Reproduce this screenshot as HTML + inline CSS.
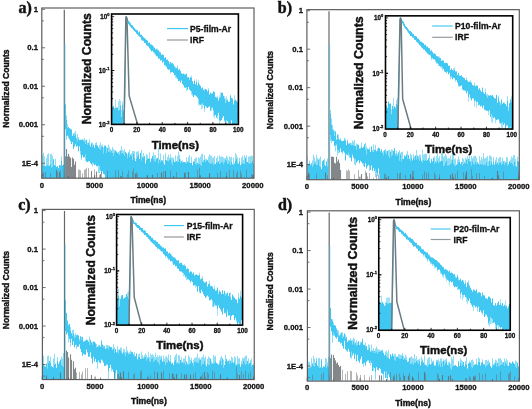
<!DOCTYPE html>
<html><head><meta charset="utf-8"><style>
html,body{margin:0;padding:0;background:#fff;width:532px;height:409px;overflow:hidden}
svg{display:block;filter:blur(0.35px)}
</style></head><body>
<svg width="532" height="409" viewBox="0 0 532 409">
<rect width="532" height="409" fill="#fff"/>
<clipPath id="ca"><rect x="42.1" y="8" width="211.6" height="169.9"/></clipPath>
<g clip-path="url(#ca)">
<path d="M41.5 160.5V178.2M42.5 164.4V178.2M43.5 165.5V178.2M44.5 165.6V178.2M45.5 165.9V178.2M46.5 166.2V178.2M47.5 165.0V178.2M48.5 166.0V178.2M49.5 165.6V178.2M50.5 163.6V178.2M51.5 167.3V178.2M52.5 166.9V178.2M53.5 159.2V178.2M54.5 165.0V178.2M55.5 165.8V178.2M56.5 167.0V178.2M57.5 166.1V178.2M58.5 168.1V178.2M59.5 165.0V178.2M60.5 165.5V178.2M61.5 160.8V178.2M62.5 165.3V178.2M63.5 164.7V178.2M65.5 104.4V129.2M66.5 119.9V136.3M67.5 128.1V135.7M68.5 127.1V136.6M69.5 128.2V139.4M70.5 128.8V141.4M71.5 129.5V144.0M72.5 135.9V142.0M73.5 133.6V148.8M74.5 135.5V146.5M75.5 134.3V144.4M76.5 138.9V146.7M77.5 141.2V145.9M78.5 138.5V151.4M79.5 140.0V146.4M80.5 139.8V151.2M81.5 139.9V158.1M82.5 139.4V155.2M83.5 140.7V157.4M84.5 141.3V157.2M85.5 143.9V154.7M86.5 139.8V161.0M87.5 144.4V162.0M88.5 142.6V161.3M89.5 145.0V161.2M90.5 146.4V163.1M91.5 143.7V164.3M92.5 146.7V162.7M93.5 144.7V163.6M94.5 147.7V165.3M95.5 145.0V164.5M96.5 145.1V166.2M97.5 145.6V166.3M98.5 147.4V165.5M99.5 148.8V166.5M100.5 150.0V170.6M101.5 146.4V173.8M102.5 146.6V171.3M103.5 153.3V173.8M104.5 146.2V174.5M105.5 145.8V178.2M106.5 152.8V178.2M107.5 147.9V178.2M108.5 151.5V178.2M109.5 151.2V178.2M110.5 152.2V178.2M111.5 150.5V178.2M112.5 153.0V178.2M113.5 155.9V178.2M114.5 152.4V178.2M115.5 150.6V178.2M116.5 151.5V178.2M117.5 152.8V178.2M118.5 154.0V178.2M119.5 154.7V178.2M120.5 150.8V178.2M121.5 153.3V178.2M122.5 153.1V178.2M123.5 153.6V178.2M124.5 155.7V178.2M125.5 151.9V178.2M126.5 153.0V178.2M127.5 158.1V178.2M128.5 152.8V178.2M129.5 156.8V178.2M130.5 154.6V178.2M131.5 155.6V178.2M132.5 159.6V178.2M133.5 154.0V178.2M134.5 158.1V178.2M135.5 161.1V178.2M136.5 158.7V178.2M137.5 156.4V178.2M138.5 154.4V178.2M139.5 158.8V178.2M140.5 152.9V178.2M141.5 160.3V178.2M142.5 156.8V178.2M143.5 157.7V178.2M144.5 156.3V178.2M145.5 163.4V178.2M146.5 159.5V178.2M147.5 158.9V178.2M148.5 158.4V178.2M149.5 158.9V178.2M150.5 161.7V178.2M151.5 158.4V178.2M152.5 156.0V178.2M153.5 159.1V178.2M154.5 161.2V178.2M155.5 161.2V178.2M156.5 158.7V178.2M157.5 157.9V178.2M158.5 163.2V178.2M159.5 159.6V178.2M160.5 162.1V178.2M161.5 160.2V178.2M162.5 160.6V178.2M163.5 163.0V178.2M164.5 164.7V178.2M165.5 160.0V178.2M166.5 160.2V178.2M167.5 160.7V178.2M168.5 161.3V178.2M169.5 159.6V178.2M170.5 159.1V178.2M171.5 163.0V178.2M172.5 164.5V178.2M173.5 160.2V178.2M174.5 161.9V178.2M175.5 162.0V178.2M176.5 161.2V178.2M177.5 162.1V178.2M178.5 161.3V178.2M179.5 159.0V178.2M180.5 162.6V178.2M181.5 161.2V178.2M182.5 162.4V178.2M183.5 162.0V178.2M184.5 162.2V178.2M185.5 162.4V178.2M186.5 163.4V178.2M187.5 161.5V178.2M188.5 161.7V178.2M189.5 163.0V178.2M190.5 163.0V178.2M191.5 162.6V178.2M192.5 165.3V178.2M193.5 161.5V178.2M194.5 162.0V178.2M195.5 163.5V178.2M196.5 164.3V178.2M197.5 162.8V178.2M198.5 164.2V178.2M199.5 164.0V178.2M200.5 164.6V178.2M201.5 165.5V178.2M202.5 161.8V178.2M203.5 161.8V178.2M204.5 159.9V178.2M205.5 161.8V178.2M206.5 160.3V178.2M207.5 160.1V178.2M208.5 162.1V178.2M209.5 162.8V178.2M210.5 164.0V178.2M211.5 163.4V178.2M212.5 162.3V178.2M213.5 164.4V178.2M214.5 164.2V178.2M215.5 163.9V178.2M216.5 161.8V178.2M217.5 162.6V178.2M218.5 161.2V178.2M219.5 163.8V178.2M220.5 163.3V178.2M221.5 162.1V178.2M222.5 161.7V178.2M223.5 164.1V178.2M224.5 162.2V178.2M225.5 160.1V178.2M226.5 160.3V178.2M227.5 163.7V178.2M228.5 163.3V178.2M229.5 161.5V178.2M230.5 164.7V178.2M231.5 162.0V178.2M232.5 164.2V178.2M233.5 164.5V178.2M234.5 163.3V178.2M235.5 160.7V178.2M236.5 158.9V178.2M237.5 163.1V178.2M238.5 163.6V178.2M239.5 161.3V178.2M240.5 165.2V178.2M241.5 163.8V178.2M242.5 163.0V178.2M243.5 163.5V178.2M244.5 163.5V178.2M245.5 158.2V178.2M246.5 161.5V178.2M247.5 162.0V178.2M248.5 163.0V178.2M249.5 164.0V178.2M250.5 162.9V178.2M251.5 163.0V178.2M252.5 160.7V178.2M253.5 163.7V178.2" stroke="#40c8f2" stroke-width="1" fill="none"/>
<path d="M42.5 155.0V164.4M43.5 152.7V165.5M44.5 156.4V165.6M46.5 158.2V166.2M47.5 154.3V165.0M48.5 153.2V166.0M50.5 154.2V163.6M51.5 153.6V167.3M52.5 155.6V166.9M55.5 158.8V165.8M61.5 156.7V160.8M66.5 136.3V139.7M66.5 115.2V119.9M67.5 124.3V128.1M68.5 136.6V138.2M72.5 142.0V142.3M74.5 132.7V135.5M75.5 131.1V134.3M76.5 137.6V138.9M77.5 134.2V141.2M78.5 137.1V138.5M80.5 151.2V154.7M81.5 158.1V159.6M81.5 139.6V139.9M83.5 139.5V140.7M84.5 138.2V141.3M85.5 154.7V160.9M85.5 140.0V143.9M86.5 161.0V162.2M87.5 142.7V144.4M89.5 139.4V145.0M91.5 142.4V143.7M92.5 162.7V166.5M92.5 142.5V146.7M95.5 143.0V145.0M96.5 142.1V145.1M98.5 165.5V173.2M99.5 166.5V173.0M99.5 144.8V148.8M100.5 142.5V150.0M101.5 145.5V146.4M102.5 144.4V146.6M103.5 147.4V153.3M104.5 145.2V146.2M106.5 147.2V152.8M108.5 144.5V151.5M109.5 146.8V151.2M110.5 148.8V152.2M112.5 146.9V153.0M113.5 148.9V155.9M114.5 150.0V152.4M115.5 150.4V150.6M118.5 152.0V154.0M119.5 150.9V154.7M120.5 149.9V150.8M121.5 146.1V153.3M122.5 149.8V153.1M123.5 151.0V153.6M124.5 149.0V155.7M127.5 154.5V158.1M128.5 151.9V152.8M129.5 149.7V156.8M131.5 153.1V155.6M132.5 151.1V159.6M133.5 151.0V154.0M134.5 151.4V158.1M136.5 151.8V158.7M137.5 151.4V156.4M138.5 151.2V154.4M140.5 152.8V152.9M141.5 149.9V160.3M142.5 156.5V156.8M143.5 153.0V157.7M144.5 155.8V156.3M146.5 154.1V159.5M147.5 155.1V158.9M149.5 152.4V158.9M153.5 152.5V159.1M154.5 155.2V161.2M155.5 155.0V161.2M158.5 147.6V163.2M160.5 153.4V162.1M163.5 155.4V163.0M165.5 153.1V160.0M167.5 157.1V160.7M168.5 154.5V161.3M169.5 157.6V159.6M170.5 154.3V159.1M171.5 157.5V163.0M172.5 157.8V164.5M173.5 157.6V160.2M175.5 155.4V162.0M177.5 156.0V162.1M178.5 151.7V161.3M179.5 154.8V159.0M180.5 159.3V162.6M182.5 160.4V162.4M186.5 157.4V163.4M188.5 157.0V161.7M189.5 154.9V163.0M191.5 156.6V162.6M194.5 159.0V162.0M195.5 157.7V163.5M196.5 157.5V164.3M198.5 157.0V164.2M199.5 158.3V164.0M200.5 156.5V164.6M201.5 154.2V165.5M202.5 153.7V161.8M203.5 159.8V161.8M204.5 155.0V159.9M205.5 159.2V161.8M206.5 158.8V160.3M208.5 156.6V162.1M209.5 154.3V162.8M210.5 155.3V164.0M211.5 155.8V163.4M212.5 157.7V162.3M213.5 157.5V164.4M214.5 156.0V164.2M216.5 158.0V161.8M217.5 156.1V162.6M219.5 155.4V163.8M220.5 156.7V163.3M221.5 156.5V162.1M222.5 156.9V161.7M223.5 157.4V164.1M224.5 158.4V162.2M225.5 157.9V160.1M226.5 155.8V160.3M227.5 157.0V163.7M228.5 159.8V163.3M229.5 156.3V161.5M230.5 157.3V164.7M231.5 156.8V162.0M233.5 157.7V164.5M235.5 153.1V160.7M236.5 154.7V158.9M237.5 157.6V163.1M239.5 157.9V161.3M241.5 157.7V163.8M242.5 155.7V163.0M243.5 160.0V163.5M244.5 155.1V163.5M245.5 157.1V158.2M246.5 155.2V161.5M248.5 156.5V163.0M249.5 156.7V164.0M250.5 156.0V162.9M251.5 155.5V163.0M252.5 155.9V160.7" stroke="#40c8f2" stroke-opacity="0.6" stroke-width="1" fill="none"/>
<path d="M43.5 172.1V178.2M45.5 172.0V178.2M50.5 173.0V178.2M57.5 171.6V178.2M60.5 170.2V178.2M64.5 170.9V178.2M78.5 169.6V178.2M79.5 169.8V178.2M80.5 170.3V178.2M82.5 173.4V178.2M84.5 169.6V178.2M85.5 169.3V178.2M86.5 167.8V178.2M88.5 168.1V178.2M94.5 169.5V178.2M99.5 175.2V178.2M101.5 172.1V178.2M107.5 170.7V178.2M115.5 170.4V178.2M118.5 170.3V178.2M120.5 176.5V178.2M122.5 171.3V178.2M127.5 174.1V178.2M128.5 170.5V178.2M132.5 171.2V178.2M133.5 168.5V178.2M136.5 172.4V178.2M137.5 173.8V178.2M157.5 173.0V178.2M163.5 171.2V178.2M170.5 170.6V178.2M176.5 172.0V178.2M185.5 172.0V178.2M197.5 169.9V178.2M199.5 167.8V178.2M217.5 173.0V178.2M220.5 171.0V178.2M226.5 172.6V178.2M229.5 170.1V178.2M233.5 170.3V178.2M236.5 173.3V178.2M237.5 171.1V178.2M240.5 170.7V178.2M241.5 173.7V178.2M246.5 169.8V178.2M251.5 174.0V178.2" stroke="#65696c" stroke-opacity="0.5" stroke-width="1" fill="none"/>
<path d="M56.5 169.8V178.2M59.5 171.9V178.2M65.5 156.4V178.2M66.5 149.0V178.2M67.5 156.4V178.2M68.5 153.7V178.2M69.5 156.6V178.2M70.5 157.8V178.2M71.5 166.9V178.2M72.5 157.6V178.2M73.5 158.7V178.2M74.5 164.8V178.2M75.5 161.6V178.2M91.5 171.0V178.2M96.5 171.6V178.2M100.5 174.1V178.2M135.5 173.5V178.2M152.5 174.8V178.2M161.5 172.5V178.2M165.5 171.1V178.2M184.5 172.9V178.2M188.5 172.0V178.2M209.5 173.2V178.2M253.5 174.8V178.2" stroke="#65696c" stroke-opacity="0.8" stroke-width="1.1" fill="none"/>
<path d="M64.3 9.8V178.2" stroke="#65696c" stroke-width="1.2"/>
<path d="M65 43.16V178.2" stroke="#40c8f2" stroke-width="0.6"/>
</g>
<rect x="41.8" y="8" width="212.2" height="170.2" fill="none" stroke="#5e5e5e" stroke-width="1.2"/>
<path d="M41.8 9.3h3.2M41.8 20.88h2M41.8 47.78h3.2M41.8 59.36h2M41.8 86.26h3.2M41.8 97.84h2M41.8 124.74h3.2M41.8 136.32h2M41.8 163.22h3.2M41.8 174.8h2M41.9 178.2v-3M68.26 178.2v-2M94.62 178.2v-3M120.99 178.2v-2M147.35 178.2v-3M173.71 178.2v-2M200.08 178.2v-3M226.44 178.2v-2M252.8 178.2v-3" stroke="#5e5e5e" stroke-width="0.9"/>
<text x="38" y="12" font-family='"Liberation Sans", sans-serif' font-weight="bold" font-size="7.7" text-anchor="end" fill="#111" stroke="#111" stroke-width="0.3" >1</text>
<text x="38" y="50.48" font-family='"Liberation Sans", sans-serif' font-weight="bold" font-size="7.7" text-anchor="end" fill="#111" stroke="#111" stroke-width="0.3" >0.1</text>
<text x="38" y="88.95" font-family='"Liberation Sans", sans-serif' font-weight="bold" font-size="7.7" text-anchor="end" fill="#111" stroke="#111" stroke-width="0.3" >0.01</text>
<text x="38" y="127.43" font-family='"Liberation Sans", sans-serif' font-weight="bold" font-size="7.7" text-anchor="end" fill="#111" stroke="#111" stroke-width="0.3" >0.001</text>
<text x="38" y="165.91" font-family='"Liberation Sans", sans-serif' font-weight="bold" font-size="7.7" text-anchor="end" fill="#111" stroke="#111" stroke-width="0.3" >1E-4</text>
<text x="41.9" y="187.69" font-family='"Liberation Sans", sans-serif' font-weight="bold" font-size="7.7" text-anchor="middle" fill="#111" stroke="#111" stroke-width="0.3" >0</text>
<text x="94.62" y="187.69" font-family='"Liberation Sans", sans-serif' font-weight="bold" font-size="7.7" text-anchor="middle" fill="#111" stroke="#111" stroke-width="0.3" >5000</text>
<text x="147.35" y="187.69" font-family='"Liberation Sans", sans-serif' font-weight="bold" font-size="7.7" text-anchor="middle" fill="#111" stroke="#111" stroke-width="0.3" >10000</text>
<text x="200.08" y="187.69" font-family='"Liberation Sans", sans-serif' font-weight="bold" font-size="7.7" text-anchor="middle" fill="#111" stroke="#111" stroke-width="0.3" >15000</text>
<text x="252.8" y="187.69" font-family='"Liberation Sans", sans-serif' font-weight="bold" font-size="7.7" text-anchor="middle" fill="#111" stroke="#111" stroke-width="0.3" >20000</text>
<text transform="translate(8.6,88.5) rotate(-90)" x="0" y="0" font-family='"Liberation Sans", sans-serif' font-weight="bold" font-size="8.6" text-anchor="middle" fill="#111" stroke="#111" stroke-width="0.4">Normalized Counts</text>
<text x="130.5" y="202.7" font-family='"Liberation Sans", sans-serif' font-weight="bold" font-size="8.6" text-anchor="start" fill="#111" stroke="#111" stroke-width="0.4" >Time(ns)</text>
<text x="18.4" y="13.4" font-family='"Liberation Serif", serif' font-weight="bold" font-size="16" text-anchor="start" fill="#111" stroke="#111" stroke-width="0.45" >a)</text>
<rect x="111.6" y="14" width="126.8" height="110.4" fill="#fff"/>
<clipPath id="ia"><rect x="111.6" y="14" width="126.8" height="110.4"/></clipPath>
<g clip-path="url(#ia)">
<path d="M111.5 115.1V124.4M112.5 109.1V124.4M113.5 105.9V124.4M114.5 108.3V124.4M115.5 108.2V124.4M116.5 107.4V124.4M117.5 107.5V124.4M118.5 110.4V124.4M119.5 109.8V124.4M120.5 105.3V124.4M121.5 116.8V124.4M122.5 104.5V124.4M123.5 110.7V124.4M125.5 16.7V17.9M126.5 16.7V18.0M127.5 17.9V21.5M128.5 20.6V24.0M129.5 21.7V25.5M130.5 23.2V26.6M131.5 24.8V28.2M132.5 25.3V28.7M133.5 26.7V30.1M134.5 28.1V31.0M135.5 29.3V32.1M136.5 29.8V33.8M137.5 30.5V34.5M138.5 32.4V35.7M139.5 31.5V36.7M140.5 34.4V37.3M141.5 34.8V39.7M142.5 36.1V40.9M143.5 37.2V40.8M144.5 38.0V43.0M145.5 39.1V43.2M146.5 39.9V45.3M147.5 40.6V45.8M148.5 42.8V46.6M149.5 42.6V48.3M150.5 44.2V49.7M151.5 44.7V51.4M152.5 45.4V50.9M153.5 46.5V52.3M154.5 47.8V52.7M155.5 49.3V54.4M156.5 49.2V56.2M157.5 50.1V56.5M158.5 50.3V58.7M159.5 52.4V58.6M160.5 52.9V60.6M161.5 55.0V60.1M162.5 54.3V62.2M163.5 55.2V61.6M164.5 58.1V65.3M165.5 57.1V64.9M166.5 59.6V66.8M167.5 59.6V68.9M168.5 61.0V69.9M169.5 63.7V69.4M170.5 62.0V72.2M171.5 63.4V72.3M172.5 63.0V72.1M173.5 64.3V73.0M174.5 66.7V75.3M175.5 68.2V75.4M176.5 68.2V77.2M177.5 67.3V78.9M178.5 69.8V81.2M179.5 69.3V80.8M180.5 70.9V82.6M181.5 73.5V80.5M182.5 73.8V83.9M183.5 73.6V85.4M184.5 74.4V87.5M185.5 74.4V87.9M186.5 74.0V87.3M187.5 77.4V89.8M188.5 77.2V87.0M189.5 79.7V89.6M190.5 77.1V90.8M191.5 77.8V91.5M192.5 81.1V94.4M193.5 83.7V97.0M194.5 80.9V95.3M195.5 84.4V95.5M196.5 82.1V96.5M197.5 85.3V97.6M198.5 82.9V99.3M199.5 84.6V103.9M200.5 85.8V104.9M201.5 88.4V104.2M202.5 87.4V103.4M203.5 89.8V105.1M204.5 90.7V108.6M205.5 88.9V106.0M206.5 89.6V107.3M207.5 91.3V108.0M208.5 90.0V107.1M209.5 94.5V106.3M210.5 92.7V110.8M211.5 93.7V107.8M212.5 93.3V107.8M213.5 91.3V110.6M214.5 92.1V115.3M215.5 96.8V115.1M216.5 97.7V117.7M217.5 97.5V115.5M218.5 100.4V112.9M219.5 98.1V120.4M220.5 97.1V121.1M221.5 92.6V120.1M222.5 92.8V117.9M223.5 95.7V116.1M224.5 99.0V120.4M225.5 102.9V122.8M226.5 100.3V120.4M227.5 99.7V121.1M228.5 101.8V123.2M229.5 101.6V123.3M230.5 95.3V127.2M231.5 98.0V120.4M232.5 98.6V126.1M233.5 104.4V126.7M234.5 100.9V131.3M235.5 99.7V128.1M236.5 100.9V130.5M237.5 102.3V121.7M238.5 104.1V130.5" stroke="#40c8f2" stroke-width="1" fill="none"/>
<path d="M111.5 105.6V115.1M111.5 102.2V105.6M113.5 105.9V105.9M115.5 99.6V108.2M118.5 101.4V110.4M119.5 99.0V109.8M120.5 100.8V105.3M121.5 109.6V116.8M122.5 101.4V104.5M149.5 42.2V42.6M152.5 45.2V45.4M153.5 46.0V46.5M154.5 52.7V54.1M155.5 54.4V55.3M156.5 48.4V49.2M157.5 48.7V50.1M159.5 51.1V52.4M160.5 51.6V52.9M161.5 54.8V55.0M162.5 62.2V63.4M163.5 55.1V55.2M165.5 64.9V66.7M167.5 68.9V69.1M169.5 62.6V63.7M170.5 61.9V62.0M170.5 72.2V73.8M172.5 62.9V63.0M174.5 65.6V66.7M174.5 75.3V75.5M175.5 66.7V68.2M175.5 75.4V77.8M176.5 77.2V78.4M177.5 65.2V67.3M178.5 81.2V81.3M179.5 68.7V69.3M181.5 72.9V73.5M186.5 73.3V74.0M186.5 87.3V91.5M187.5 76.5V77.4M189.5 78.1V79.7M191.5 75.6V77.8M191.5 91.5V94.7M192.5 94.4V95.9M194.5 79.4V80.9M196.5 79.4V82.1M198.5 80.4V82.9M198.5 99.3V105.3M199.5 103.9V105.6M200.5 104.9V105.2M201.5 104.2V109.2M202.5 103.4V108.7M204.5 88.9V90.7M204.5 108.6V111.8M208.5 88.1V90.0M211.5 107.8V110.8M213.5 110.6V116.4M214.5 115.3V118.5M216.5 96.9V97.7M217.5 95.6V97.5M217.5 115.5V118.9M219.5 95.5V98.1M219.5 120.4V127.4M220.5 92.2V97.1M224.5 96.1V99.0M224.5 120.4V121.8M225.5 97.9V102.9M226.5 96.4V100.3M226.5 120.4V125.6M229.5 123.3V127.5M230.5 127.2V136.2M232.5 126.1V132.2M233.5 126.7V128.0M234.5 95.1V100.9M234.5 131.3V133.4M236.5 130.5V133.9M237.5 121.7V123.5M238.5 130.5V130.9" stroke="#40c8f2" stroke-opacity="0.5" stroke-width="1" fill="none"/>
<path d="M124.35 124.4L126.16 16.7" stroke="#40c8f2" stroke-width="1"/>
<path d="M123.93 129.74 L125.83 18.31 L126.34 16.7 L126.97 18.85 L129.13 95.83 L137.62 124.36 L138.25 127.05" stroke="#6d7c81" stroke-width="1.5" fill="none" stroke-linejoin="round"/>
</g>
<rect x="111.6" y="14" width="126.8" height="110.4" fill="none" stroke="#000" stroke-width="1.6"/>
<path d="M111.6 108.16h1.6M111.6 98.68h1.6M111.6 91.95h1.6M111.6 86.73h1.6M111.6 82.47h1.6M111.6 78.87h1.6M111.6 75.75h1.6M111.6 72.99h1.6M111.6 70.53h2.6M111.6 70.53h2.6M111.6 54.33h1.6M111.6 44.85h1.6M111.6 38.12h1.6M111.6 32.9h1.6M111.6 28.64h1.6M111.6 25.04h1.6M111.6 21.92h1.6M111.6 19.16h1.6M111.6 16.7h2.6M124.18 124.4v-1.5M136.86 124.4v-2.4M149.54 124.4v-1.5M162.22 124.4v-2.4M174.9 124.4v-1.5M187.58 124.4v-2.4M200.26 124.4v-1.5M212.94 124.4v-2.4M225.62 124.4v-1.5" stroke="#000" stroke-width="0.8"/>
<text x="109.4" y="18.9" font-family='"Liberation Sans", sans-serif' font-weight="bold" font-size="6.3" text-anchor="end" fill="#111" stroke="#111" stroke-width="0.3">10<tspan font-size="4" dy="-2.8">0</tspan></text>
<text x="109.4" y="72.73" font-family='"Liberation Sans", sans-serif' font-weight="bold" font-size="6.3" text-anchor="end" fill="#111" stroke="#111" stroke-width="0.3">10<tspan font-size="4" dy="-2.8">-1</tspan></text>
<text x="109.4" y="126.56" font-family='"Liberation Sans", sans-serif' font-weight="bold" font-size="6.3" text-anchor="end" fill="#111" stroke="#111" stroke-width="0.3">10<tspan font-size="4" dy="-2.8">-2</tspan></text>
<text x="111.5" y="132.21" font-family='"Liberation Sans", sans-serif' font-weight="bold" font-size="6.3" text-anchor="middle" fill="#111" stroke="#111" stroke-width="0.3" >0</text>
<text x="136.86" y="132.21" font-family='"Liberation Sans", sans-serif' font-weight="bold" font-size="6.3" text-anchor="middle" fill="#111" stroke="#111" stroke-width="0.3" >20</text>
<text x="162.22" y="132.21" font-family='"Liberation Sans", sans-serif' font-weight="bold" font-size="6.3" text-anchor="middle" fill="#111" stroke="#111" stroke-width="0.3" >40</text>
<text x="187.58" y="132.21" font-family='"Liberation Sans", sans-serif' font-weight="bold" font-size="6.3" text-anchor="middle" fill="#111" stroke="#111" stroke-width="0.3" >60</text>
<text x="212.94" y="132.21" font-family='"Liberation Sans", sans-serif' font-weight="bold" font-size="6.3" text-anchor="middle" fill="#111" stroke="#111" stroke-width="0.3" >80</text>
<text x="238.3" y="132.21" font-family='"Liberation Sans", sans-serif' font-weight="bold" font-size="6.3" text-anchor="middle" fill="#111" stroke="#111" stroke-width="0.3" >100</text>
<text transform="translate(90.6,68.7) rotate(-90)" x="0" y="0" font-family='"Liberation Sans", sans-serif' font-weight="bold" font-size="12.2" text-anchor="middle" fill="#111" stroke="#111" stroke-width="0.45">Normalized Counts</text>
<text x="151.7" y="148.6" font-family='"Liberation Sans", sans-serif' font-weight="bold" font-size="11.4" text-anchor="start" fill="#111" stroke="#111" stroke-width="0.45" >Time(ns)</text>
<path d="M167 28.6H188" stroke="#40c8f2" stroke-width="1.15"/>
<path d="M167 40H188" stroke="#939a9e" stroke-width="1.2"/>
<text x="190.1" y="31.7" font-family='"Liberation Sans", sans-serif' font-weight="bold" font-size="8.6" text-anchor="start" fill="#111" stroke="#111" stroke-width="0.3" >P5-film-Ar</text>
<text x="190.1" y="42.7" font-family='"Liberation Sans", sans-serif' font-weight="bold" font-size="8.6" text-anchor="start" fill="#111" stroke="#111" stroke-width="0.3" >IRF</text>
<clipPath id="cb"><rect x="307.2" y="9.65" width="211.8" height="169.75"/></clipPath>
<g clip-path="url(#cb)">
<path d="M306.5 164.5V179.7M307.5 163.8V179.7M308.5 164.1V179.7M309.5 162.9V179.7M310.5 165.1V179.7M311.5 163.3V179.7M312.5 167.1V179.7M313.5 164.8V179.7M314.5 163.1V179.7M315.5 163.2V179.7M316.5 164.6V179.7M317.5 164.6V179.7M318.5 159.5V179.7M319.5 165.9V179.7M320.5 166.8V179.7M321.5 169.1V179.7M322.5 161.2V179.7M323.5 160.0V179.7M324.5 164.5V179.7M325.5 165.8V179.7M326.5 161.4V179.7M327.5 166.3V179.7M330.5 113.6V135.3M331.5 124.7V139.9M332.5 129.8V141.2M333.5 131.1V141.0M334.5 135.9V145.9M335.5 131.4V145.2M336.5 139.6V144.5M337.5 135.1V149.8M338.5 138.9V150.0M339.5 139.6V152.4M340.5 140.0V148.5M341.5 140.7V152.3M342.5 141.2V152.1M343.5 140.8V151.2M344.5 139.7V152.7M345.5 141.1V160.5M346.5 145.0V154.3M347.5 140.8V155.1M348.5 143.7V152.9M349.5 143.4V155.2M350.5 145.0V157.7M351.5 145.2V161.3M352.5 144.8V154.5M353.5 145.4V157.7M354.5 146.1V159.3M355.5 145.6V159.0M356.5 149.4V162.4M357.5 144.5V161.2M358.5 144.8V160.3M359.5 148.5V163.3M360.5 148.3V160.8M361.5 146.6V162.2M362.5 148.0V163.5M363.5 146.8V163.6M364.5 144.2V167.1M365.5 149.3V163.3M366.5 154.3V168.5M367.5 148.7V166.3M368.5 149.2V164.9M369.5 149.7V166.2M370.5 152.1V170.0M371.5 146.5V165.5M372.5 151.4V170.8M373.5 151.7V168.0M374.5 149.7V171.1M375.5 150.1V169.1M376.5 151.2V172.7M377.5 150.9V173.9M378.5 147.6V168.6M379.5 148.4V174.2M380.5 151.7V179.7M381.5 149.7V179.7M382.5 152.6V179.7M383.5 155.2V179.7M384.5 150.1V179.7M385.5 152.4V179.7M386.5 154.3V179.7M387.5 150.9V179.7M388.5 155.8V179.7M389.5 157.9V179.7M390.5 151.5V179.7M391.5 156.1V179.7M392.5 154.7V179.7M393.5 151.0V179.7M394.5 148.2V179.7M395.5 155.5V179.7M396.5 154.2V179.7M397.5 155.6V179.7M398.5 152.4V179.7M399.5 160.4V179.7M400.5 154.6V179.7M401.5 161.2V179.7M402.5 158.8V179.7M403.5 159.0V179.7M404.5 155.4V179.7M405.5 156.9V179.7M406.5 154.5V179.7M407.5 158.5V179.7M408.5 155.2V179.7M409.5 158.8V179.7M410.5 160.6V179.7M411.5 157.8V179.7M412.5 160.3V179.7M413.5 157.4V179.7M414.5 159.7V179.7M415.5 155.7V179.7M416.5 159.3V179.7M417.5 155.6V179.7M418.5 159.0V179.7M419.5 160.5V179.7M420.5 157.4V179.7M421.5 160.8V179.7M422.5 162.4V179.7M423.5 159.8V179.7M424.5 160.9V179.7M425.5 159.8V179.7M426.5 160.6V179.7M427.5 160.2V179.7M428.5 158.0V179.7M429.5 161.1V179.7M430.5 162.9V179.7M431.5 159.2V179.7M432.5 161.4V179.7M433.5 157.6V179.7M434.5 163.4V179.7M435.5 161.3V179.7M436.5 162.9V179.7M437.5 160.6V179.7M438.5 163.1V179.7M439.5 161.9V179.7M440.5 161.4V179.7M441.5 161.0V179.7M442.5 160.6V179.7M443.5 165.9V179.7M444.5 165.3V179.7M445.5 162.3V179.7M446.5 160.6V179.7M447.5 165.4V179.7M448.5 165.3V179.7M449.5 165.0V179.7M450.5 164.1V179.7M451.5 162.9V179.7M452.5 159.5V179.7M453.5 163.7V179.7M454.5 165.5V179.7M455.5 165.4V179.7M456.5 164.7V179.7M457.5 163.8V179.7M458.5 162.2V179.7M459.5 161.5V179.7M460.5 164.1V179.7M461.5 162.0V179.7M462.5 165.5V179.7M463.5 163.8V179.7M464.5 162.6V179.7M465.5 163.3V179.7M466.5 159.5V179.7M467.5 164.0V179.7M468.5 158.8V179.7M469.5 161.3V179.7M470.5 161.4V179.7M471.5 165.3V179.7M472.5 161.2V179.7M473.5 163.7V179.7M474.5 164.2V179.7M475.5 161.8V179.7M476.5 164.1V179.7M477.5 162.2V179.7M478.5 163.7V179.7M479.5 164.9V179.7M480.5 163.8V179.7M481.5 164.3V179.7M482.5 163.5V179.7M483.5 165.3V179.7M484.5 164.2V179.7M485.5 164.7V179.7M486.5 162.1V179.7M487.5 165.7V179.7M488.5 165.9V179.7M489.5 161.0V179.7M490.5 164.6V179.7M491.5 162.1V179.7M492.5 164.5V179.7M493.5 161.3V179.7M494.5 164.6V179.7M495.5 161.7V179.7M496.5 163.9V179.7M497.5 162.6V179.7M498.5 164.5V179.7M499.5 162.6V179.7M500.5 162.7V179.7M501.5 164.8V179.7M502.5 163.6V179.7M503.5 161.4V179.7M504.5 165.1V179.7M505.5 162.3V179.7M506.5 162.2V179.7M507.5 165.7V179.7M508.5 164.1V179.7M509.5 161.3V179.7M510.5 162.4V179.7M511.5 162.8V179.7M512.5 163.7V179.7M513.5 165.8V179.7M514.5 161.8V179.7M515.5 165.5V179.7M516.5 166.4V179.7M517.5 160.6V179.7M518.5 161.9V179.7M519.5 163.7V179.7" stroke="#40c8f2" stroke-width="1" fill="none"/>
<path d="M306.5 158.8V164.5M307.5 156.6V163.8M309.5 160.6V162.9M312.5 160.5V167.1M313.5 154.8V164.8M314.5 157.3V163.1M315.5 160.9V163.2M316.5 154.5V164.6M317.5 158.0V164.6M319.5 158.4V165.9M320.5 156.5V166.8M324.5 158.7V164.5M327.5 158.5V166.3M330.5 135.3V140.8M330.5 110.1V113.6M331.5 139.9V143.0M331.5 118.3V124.7M332.5 124.9V129.8M333.5 128.9V131.1M334.5 130.4V135.9M335.5 145.2V151.4M336.5 144.5V145.8M337.5 149.8V155.7M337.5 134.1V135.1M338.5 150.0V153.2M338.5 134.8V138.9M339.5 152.4V152.8M339.5 139.5V139.6M340.5 137.8V140.0M342.5 152.1V154.3M343.5 140.7V140.8M344.5 137.8V139.7M345.5 138.9V141.1M346.5 154.3V154.6M347.5 139.7V140.8M348.5 152.9V156.2M348.5 143.3V143.7M349.5 155.2V157.8M350.5 142.4V145.0M351.5 143.1V145.2M352.5 154.5V155.6M352.5 140.5V144.8M353.5 141.7V145.4M354.5 159.3V164.5M354.5 139.9V146.1M355.5 159.0V165.4M355.5 145.6V145.6M356.5 162.4V163.1M356.5 143.3V149.4M357.5 144.4V144.5M361.5 142.5V146.6M362.5 147.8V148.0M363.5 163.6V166.2M365.5 142.9V149.3M366.5 146.6V154.3M367.5 148.6V148.7M369.5 166.2V170.7M369.5 147.3V149.7M372.5 149.9V151.4M373.5 144.2V151.7M375.5 169.1V177.3M375.5 144.8V150.1M377.5 173.9V176.3M377.5 148.4V150.9M379.5 174.2V179.7M380.5 151.0V151.7M381.5 149.2V149.7M383.5 150.8V155.2M385.5 148.8V152.4M386.5 151.1V154.3M388.5 150.1V155.8M389.5 149.5V157.9M391.5 149.4V156.1M392.5 149.7V154.7M395.5 153.2V155.5M396.5 150.7V154.2M397.5 153.8V155.6M399.5 150.2V160.4M400.5 152.9V154.6M401.5 152.0V161.2M402.5 151.7V158.8M405.5 155.8V156.9M406.5 153.8V154.5M407.5 151.0V158.5M408.5 154.8V155.2M410.5 153.5V160.6M411.5 154.9V157.8M413.5 154.1V157.4M414.5 156.5V159.7M415.5 155.2V155.7M416.5 149.9V159.3M418.5 156.1V159.0M419.5 154.6V160.5M420.5 154.9V157.4M422.5 149.9V162.4M423.5 154.7V159.8M424.5 154.1V160.9M425.5 153.6V159.8M426.5 154.0V160.6M427.5 159.9V160.2M428.5 158.0V158.0M429.5 154.8V161.1M431.5 158.8V159.2M434.5 156.2V163.4M436.5 156.0V162.9M437.5 153.4V160.6M438.5 158.0V163.1M439.5 156.1V161.9M441.5 153.4V161.0M442.5 151.8V160.6M443.5 156.5V165.9M444.5 156.2V165.3M445.5 154.0V162.3M446.5 155.8V160.6M447.5 158.5V165.4M448.5 158.0V165.3M449.5 158.5V165.0M450.5 155.9V164.1M451.5 159.4V162.9M452.5 152.6V159.5M453.5 154.7V163.7M454.5 159.3V165.5M455.5 158.5V165.4M457.5 159.6V163.8M458.5 156.5V162.2M459.5 159.4V161.5M462.5 157.8V165.5M463.5 159.1V163.8M464.5 161.4V162.6M465.5 157.7V163.3M466.5 158.8V159.5M467.5 155.8V164.0M469.5 155.4V161.3M470.5 160.8V161.4M471.5 155.9V165.3M472.5 158.0V161.2M473.5 156.6V163.7M474.5 155.8V164.2M475.5 155.8V161.8M476.5 157.6V164.1M479.5 156.0V164.9M480.5 160.4V163.8M481.5 156.8V164.3M482.5 159.1V163.5M483.5 153.1V165.3M484.5 158.3V164.2M485.5 158.1V164.7M486.5 157.5V162.1M487.5 155.9V165.7M488.5 161.2V165.9M489.5 155.4V161.0M490.5 155.7V164.6M491.5 156.7V162.1M493.5 157.2V161.3M495.5 159.6V161.7M496.5 157.2V163.9M498.5 158.5V164.5M499.5 157.3V162.6M500.5 156.9V162.7M501.5 161.2V164.8M502.5 157.7V163.6M504.5 160.9V165.1M506.5 156.8V162.2M507.5 157.6V165.7M510.5 159.5V162.4M511.5 156.4V162.8M512.5 157.7V163.7M513.5 155.2V165.8M514.5 155.2V161.8M515.5 159.0V165.5M517.5 156.7V160.6M518.5 161.1V161.9M519.5 157.6V163.7" stroke="#40c8f2" stroke-opacity="0.6" stroke-width="1" fill="none"/>
<path d="M309.5 173.9V179.7M316.5 173.5V179.7M327.5 175.4V179.7M346.5 170.5V179.7M347.5 170.8V179.7M348.5 169.2V179.7M349.5 170.8V179.7M354.5 174.3V179.7M358.5 169.9V179.7M365.5 170.8V179.7M367.5 176.4V179.7M369.5 173.0V179.7M373.5 177.6V179.7M376.5 173.7V179.7M378.5 174.5V179.7M384.5 173.4V179.7M385.5 174.1V179.7M397.5 173.2V179.7M399.5 173.8V179.7M400.5 172.6V179.7M405.5 174.9V179.7M412.5 171.0V179.7M413.5 170.8V179.7M422.5 174.7V179.7M424.5 171.4V179.7M426.5 172.7V179.7M428.5 172.7V179.7M434.5 172.5V179.7M435.5 175.1V179.7M439.5 174.6V179.7M455.5 174.1V179.7M457.5 170.6V179.7M463.5 172.3V179.7M465.5 173.7V179.7M471.5 169.1V179.7M472.5 175.8V179.7M476.5 173.4V179.7M479.5 173.2V179.7M484.5 175.7V179.7M503.5 171.8V179.7M518.5 171.5V179.7" stroke="#65696c" stroke-opacity="0.5" stroke-width="1" fill="none"/>
<path d="M308.5 172.7V179.7M325.5 172.5V179.7M331.5 156.4V179.7M332.5 156.8V179.7M333.5 156.9V179.7M334.5 162.8V179.7M335.5 163.4V179.7M336.5 156.7V179.7M337.5 161.6V179.7M338.5 159.5V179.7M339.5 162.9V179.7M340.5 170.0V179.7M361.5 174.1V179.7M366.5 172.7V179.7M388.5 176.2V179.7M410.5 174.1V179.7M450.5 174.7V179.7M452.5 173.6V179.7M453.5 177.2V179.7M466.5 171.4V179.7M497.5 171.0V179.7M498.5 175.3V179.7" stroke="#65696c" stroke-opacity="0.8" stroke-width="1.1" fill="none"/>
<path d="M329 11.2V179.7" stroke="#65696c" stroke-width="1.2"/>
<path d="M329.7 44.56V179.7" stroke="#40c8f2" stroke-width="0.6"/>
</g>
<rect x="306.9" y="9.65" width="212.4" height="170.05" fill="none" stroke="#5e5e5e" stroke-width="1.2"/>
<path d="M306.9 10.7h3.2M306.9 22.28h2M306.9 49.18h3.2M306.9 60.76h2M306.9 87.66h3.2M306.9 99.24h2M306.9 126.14h3.2M306.9 137.72h2M306.9 164.62h3.2M306.9 176.2h2M306.9 179.7v-3M333.39 179.7v-2M359.88 179.7v-3M386.36 179.7v-2M412.85 179.7v-3M439.34 179.7v-2M465.82 179.7v-3M492.31 179.7v-2M518.8 179.7v-3" stroke="#5e5e5e" stroke-width="0.9"/>
<text x="303" y="13.39" font-family='"Liberation Sans", sans-serif' font-weight="bold" font-size="7.7" text-anchor="end" fill="#111" stroke="#111" stroke-width="0.3" >1</text>
<text x="303" y="51.87" font-family='"Liberation Sans", sans-serif' font-weight="bold" font-size="7.7" text-anchor="end" fill="#111" stroke="#111" stroke-width="0.3" >0.1</text>
<text x="303" y="90.35" font-family='"Liberation Sans", sans-serif' font-weight="bold" font-size="7.7" text-anchor="end" fill="#111" stroke="#111" stroke-width="0.3" >0.01</text>
<text x="303" y="128.84" font-family='"Liberation Sans", sans-serif' font-weight="bold" font-size="7.7" text-anchor="end" fill="#111" stroke="#111" stroke-width="0.3" >0.001</text>
<text x="303" y="167.31" font-family='"Liberation Sans", sans-serif' font-weight="bold" font-size="7.7" text-anchor="end" fill="#111" stroke="#111" stroke-width="0.3" >1E-4</text>
<text x="306.9" y="189.49" font-family='"Liberation Sans", sans-serif' font-weight="bold" font-size="7.7" text-anchor="middle" fill="#111" stroke="#111" stroke-width="0.3" >0</text>
<text x="359.88" y="189.49" font-family='"Liberation Sans", sans-serif' font-weight="bold" font-size="7.7" text-anchor="middle" fill="#111" stroke="#111" stroke-width="0.3" >5000</text>
<text x="412.85" y="189.49" font-family='"Liberation Sans", sans-serif' font-weight="bold" font-size="7.7" text-anchor="middle" fill="#111" stroke="#111" stroke-width="0.3" >10000</text>
<text x="465.82" y="189.49" font-family='"Liberation Sans", sans-serif' font-weight="bold" font-size="7.7" text-anchor="middle" fill="#111" stroke="#111" stroke-width="0.3" >15000</text>
<text x="518.8" y="189.49" font-family='"Liberation Sans", sans-serif' font-weight="bold" font-size="7.7" text-anchor="middle" fill="#111" stroke="#111" stroke-width="0.3" >20000</text>
<text transform="translate(273.3,90.05) rotate(-90)" x="0" y="0" font-family='"Liberation Sans", sans-serif' font-weight="bold" font-size="8.6" text-anchor="middle" fill="#111" stroke="#111" stroke-width="0.4">Normalized Counts</text>
<text x="395.6" y="204.6" font-family='"Liberation Sans", sans-serif' font-weight="bold" font-size="8.6" text-anchor="start" fill="#111" stroke="#111" stroke-width="0.4" >Time(ns)</text>
<text x="277.8" y="13.4" font-family='"Liberation Serif", serif' font-weight="bold" font-size="16" text-anchor="start" fill="#111" stroke="#111" stroke-width="0.45" >b)</text>
<rect x="385.5" y="15.85" width="127.2" height="113.2" fill="#fff"/>
<clipPath id="ib"><rect x="385.5" y="15.85" width="127.2" height="113.2"/></clipPath>
<g clip-path="url(#ib)">
<path d="M385.5 106.2V129.1M386.5 105.6V129.1M387.5 108.0V129.1M388.5 101.7V129.1M389.5 103.7V129.1M390.5 103.5V129.1M391.5 114.1V129.1M392.5 105.9V129.1M393.5 108.6V129.1M394.5 106.4V129.1M395.5 107.5V129.1M396.5 103.6V129.1M397.5 105.2V129.1M400.5 17.9V19.0M401.5 18.3V21.2M402.5 20.6V23.5M403.5 21.6V25.7M404.5 23.8V27.6M405.5 26.0V28.8M406.5 26.9V29.7M407.5 28.1V31.4M408.5 29.5V32.8M409.5 30.9V34.2M410.5 31.0V36.0M411.5 32.0V36.1M412.5 33.5V37.5M413.5 34.1V37.8M414.5 36.1V39.8M415.5 36.0V40.0M416.5 36.5V41.7M417.5 38.3V42.5M418.5 38.8V43.6M419.5 40.1V45.1M420.5 41.5V45.8M421.5 41.7V47.4M422.5 42.6V48.2M423.5 43.2V49.5M424.5 45.0V49.7M425.5 44.9V51.2M426.5 46.5V52.4M427.5 46.6V53.3M428.5 47.8V54.4M429.5 48.4V55.0M430.5 50.8V54.9M431.5 50.4V58.0M432.5 51.9V58.1M433.5 53.5V59.5M434.5 53.4V59.3M435.5 54.2V60.5M436.5 56.1V62.6M437.5 56.4V63.3M438.5 57.3V64.2M439.5 58.1V65.9M440.5 58.1V66.5M441.5 60.8V66.1M442.5 60.3V67.7M443.5 61.0V69.1M444.5 63.0V71.4M445.5 62.9V72.1M446.5 62.9V72.9M447.5 63.7V71.7M448.5 65.7V74.3M449.5 65.8V72.8M450.5 70.1V76.6M451.5 68.5V76.5M452.5 70.1V79.2M453.5 70.6V77.8M454.5 69.6V78.1M455.5 71.4V80.2M456.5 71.4V80.2M457.5 75.0V82.5M458.5 72.8V85.3M459.5 75.4V86.4M460.5 76.0V86.1M461.5 75.2V85.4M462.5 76.9V89.0M463.5 77.6V90.3M464.5 78.1V90.0M465.5 80.0V90.6M466.5 79.5V93.4M467.5 80.7V91.3M468.5 82.0V97.2M469.5 81.6V94.4M470.5 81.7V98.3M471.5 82.7V100.3M472.5 84.9V98.4M473.5 85.6V98.5M474.5 85.3V101.6M475.5 86.2V100.7M476.5 85.5V102.2M477.5 85.6V101.9M478.5 89.4V105.3M479.5 88.2V104.8M480.5 90.4V106.5M481.5 91.8V105.8M482.5 88.2V108.0M483.5 92.4V105.6M484.5 94.0V109.7M485.5 92.1V109.9M486.5 95.4V110.8M487.5 97.4V110.8M488.5 95.3V111.5M489.5 95.7V110.3M490.5 95.1V116.8M491.5 95.7V114.3M492.5 95.1V116.4M493.5 96.7V118.2M494.5 98.3V117.3M495.5 98.4V119.3M496.5 95.0V120.2M497.5 102.8V119.5M498.5 97.6V119.3M499.5 101.5V121.5M500.5 105.0V123.0M501.5 99.4V123.3M502.5 103.7V122.5M503.5 102.5V124.9M504.5 103.4V123.4M505.5 104.0V134.0M506.5 105.8V124.9M507.5 100.6V125.6M508.5 111.0V133.7M509.5 103.2V127.8M510.5 99.4V127.2M511.5 102.2V132.7M512.5 104.9V133.6" stroke="#40c8f2" stroke-width="1" fill="none"/>
<path d="M385.5 100.9V106.2M391.5 109.1V114.1M393.5 103.9V108.6M393.5 97.6V103.9M396.5 99.7V103.6M397.5 97.9V105.2M425.5 44.4V44.9M427.5 53.3V54.1M429.5 48.1V48.4M430.5 54.9V56.4M431.5 49.9V50.4M431.5 58.0V60.2M432.5 58.1V58.5M435.5 60.5V62.0M436.5 62.6V64.0M438.5 56.1V57.3M438.5 64.2V66.1M439.5 56.6V58.1M440.5 66.5V67.4M441.5 66.1V68.5M442.5 67.7V70.4M443.5 59.8V61.0M447.5 62.6V63.7M450.5 76.6V79.3M451.5 76.5V77.8M453.5 68.3V70.6M454.5 67.3V69.6M454.5 78.1V78.4M455.5 80.2V82.0M458.5 85.3V86.9M462.5 76.9V76.9M462.5 89.0V89.8M464.5 90.0V91.1M465.5 90.6V91.3M466.5 77.2V79.5M467.5 80.5V80.7M468.5 97.2V101.6M470.5 80.3V81.7M474.5 82.4V85.3M474.5 101.6V106.7M476.5 102.2V107.8M482.5 87.3V88.2M485.5 88.5V92.1M485.5 109.9V110.6M486.5 94.1V95.4M487.5 93.6V97.4M488.5 111.5V115.1M491.5 114.3V122.0M492.5 116.4V123.2M495.5 119.3V123.3M498.5 95.6V97.6M499.5 121.5V123.6M500.5 103.1V105.0M500.5 123.0V124.1M501.5 123.3V130.1M502.5 122.5V128.0M504.5 102.4V103.4M505.5 134.0V143.7M506.5 124.9V126.6M507.5 95.8V100.6M508.5 107.1V111.0M510.5 127.2V129.7M511.5 96.3V102.2M511.5 132.7V140.8" stroke="#40c8f2" stroke-opacity="0.5" stroke-width="1" fill="none"/>
<path d="M398.14 129.05L400.34 17.9" stroke="#40c8f2" stroke-width="1"/>
<path d="M397.72 134.24 L400 19.56 L400.51 17.9 L401.14 20.12 L402.67 99.01 L411.04 128.7 L411.68 131.47" stroke="#6d7c81" stroke-width="1.5" fill="none" stroke-linejoin="round"/>
</g>
<rect x="385.5" y="15.85" width="127.2" height="113.2" fill="none" stroke="#000" stroke-width="1.6"/>
<path d="M385.5 112.02h1.6M385.5 102.27h1.6M385.5 95.35h1.6M385.5 89.98h1.6M385.5 85.59h1.6M385.5 81.88h1.6M385.5 78.67h1.6M385.5 75.83h1.6M385.5 73.3h2.6M385.5 73.3h2.6M385.5 56.62h1.6M385.5 46.87h1.6M385.5 39.95h1.6M385.5 34.58h1.6M385.5 30.19h1.6M385.5 26.48h1.6M385.5 23.27h1.6M385.5 20.43h1.6M385.5 17.9h2.6M397.59 129.05v-1.5M410.28 129.05v-2.4M422.97 129.05v-1.5M435.66 129.05v-2.4M448.35 129.05v-1.5M461.04 129.05v-2.4M473.73 129.05v-1.5M486.42 129.05v-2.4M499.11 129.05v-1.5" stroke="#000" stroke-width="0.8"/>
<text x="383.2" y="20.1" font-family='"Liberation Sans", sans-serif' font-weight="bold" font-size="6.3" text-anchor="end" fill="#111" stroke="#111" stroke-width="0.3">10<tspan font-size="4" dy="-2.8">0</tspan></text>
<text x="383.2" y="75.5" font-family='"Liberation Sans", sans-serif' font-weight="bold" font-size="6.3" text-anchor="end" fill="#111" stroke="#111" stroke-width="0.3">10<tspan font-size="4" dy="-2.8">-1</tspan></text>
<text x="383.2" y="130.91" font-family='"Liberation Sans", sans-serif' font-weight="bold" font-size="6.3" text-anchor="end" fill="#111" stroke="#111" stroke-width="0.3">10<tspan font-size="4" dy="-2.8">-2</tspan></text>
<text x="384.9" y="136.76" font-family='"Liberation Sans", sans-serif' font-weight="bold" font-size="6.3" text-anchor="middle" fill="#111" stroke="#111" stroke-width="0.3" >0</text>
<text x="410.28" y="136.76" font-family='"Liberation Sans", sans-serif' font-weight="bold" font-size="6.3" text-anchor="middle" fill="#111" stroke="#111" stroke-width="0.3" >20</text>
<text x="435.66" y="136.76" font-family='"Liberation Sans", sans-serif' font-weight="bold" font-size="6.3" text-anchor="middle" fill="#111" stroke="#111" stroke-width="0.3" >40</text>
<text x="461.04" y="136.76" font-family='"Liberation Sans", sans-serif' font-weight="bold" font-size="6.3" text-anchor="middle" fill="#111" stroke="#111" stroke-width="0.3" >60</text>
<text x="486.42" y="136.76" font-family='"Liberation Sans", sans-serif' font-weight="bold" font-size="6.3" text-anchor="middle" fill="#111" stroke="#111" stroke-width="0.3" >80</text>
<text x="511.8" y="136.76" font-family='"Liberation Sans", sans-serif' font-weight="bold" font-size="6.3" text-anchor="middle" fill="#111" stroke="#111" stroke-width="0.3" >100</text>
<text transform="translate(363.4,72.75) rotate(-90)" x="0" y="0" font-family='"Liberation Sans", sans-serif' font-weight="bold" font-size="12.4" text-anchor="middle" fill="#111" stroke="#111" stroke-width="0.45">Normalized Counts</text>
<text x="425.1" y="153.2" font-family='"Liberation Sans", sans-serif' font-weight="bold" font-size="11.4" text-anchor="start" fill="#111" stroke="#111" stroke-width="0.45" >Time(ns)</text>
<path d="M432.2 26H452.8" stroke="#40c8f2" stroke-width="1.15"/>
<path d="M432.2 37.3H452.8" stroke="#939a9e" stroke-width="1.2"/>
<text x="455.1" y="29" font-family='"Liberation Sans", sans-serif' font-weight="bold" font-size="8.6" text-anchor="start" fill="#111" stroke="#111" stroke-width="0.3" >P10-film-Ar</text>
<text x="455.1" y="39.9" font-family='"Liberation Sans", sans-serif' font-weight="bold" font-size="8.6" text-anchor="start" fill="#111" stroke="#111" stroke-width="0.3" >IRF</text>
<clipPath id="cc"><rect x="42.7" y="209.4" width="211.25" height="169.85"/></clipPath>
<g clip-path="url(#cc)">
<path d="M42.5 363.8V379.6M43.5 363.5V379.6M44.5 365.7V379.6M45.5 366.7V379.6M46.5 363.6V379.6M47.5 368.4V379.6M48.5 363.0V379.6M49.5 361.0V379.6M50.5 362.6V379.6M51.5 366.1V379.6M52.5 367.0V379.6M53.5 367.5V379.6M54.5 364.3V379.6M55.5 363.7V379.6M56.5 367.8V379.6M57.5 360.8V379.6M58.5 363.9V379.6M59.5 361.8V379.6M60.5 359.9V379.6M61.5 364.7V379.6M62.5 365.6V379.6M63.5 366.8V379.6M65.5 300.3V330.8M66.5 312.9V334.4M67.5 320.6V332.8M68.5 326.0V336.4M69.5 323.9V339.0M70.5 330.4V343.1M71.5 333.1V338.9M72.5 335.6V345.0M73.5 333.3V341.6M74.5 338.3V347.3M75.5 337.0V345.0M76.5 335.2V344.8M77.5 334.7V346.8M78.5 336.1V346.6M79.5 340.6V344.4M80.5 336.2V349.0M81.5 339.7V352.2M82.5 336.9V355.9M83.5 341.6V353.8M84.5 341.2V354.5M85.5 340.6V354.8M86.5 339.8V349.7M87.5 340.2V352.5M88.5 341.5V356.8M89.5 345.0V356.5M90.5 339.7V352.4M91.5 342.6V358.4M92.5 344.5V363.5M93.5 341.5V356.8M94.5 341.7V361.6M95.5 343.2V358.9M96.5 347.3V362.2M97.5 346.5V362.4M98.5 346.7V360.6M99.5 345.4V362.6M100.5 346.6V363.2M101.5 340.5V359.6M102.5 344.6V360.6M103.5 347.3V362.8M104.5 346.4V366.1M105.5 348.9V365.7M106.5 348.3V364.5M107.5 347.5V364.7M108.5 349.3V371.5M109.5 346.2V368.0M110.5 347.1V364.9M111.5 347.2V367.8M112.5 350.1V369.6M113.5 348.8V372.0M114.5 352.9V378.5M115.5 349.1V373.4M116.5 352.3V370.2M117.5 351.4V378.8M118.5 353.4V379.6M119.5 349.7V379.6M120.5 350.3V379.6M121.5 352.2V379.6M122.5 353.5V379.6M123.5 351.6V379.6M124.5 353.3V379.6M125.5 356.2V379.6M126.5 352.4V379.6M127.5 352.2V379.6M128.5 354.2V379.6M129.5 353.8V379.6M130.5 353.8V379.6M131.5 352.1V379.6M132.5 352.1V379.6M133.5 354.3V379.6M134.5 356.3V379.6M135.5 356.0V379.6M136.5 353.5V379.6M137.5 359.3V379.6M138.5 357.1V379.6M139.5 356.3V379.6M140.5 359.0V379.6M141.5 358.7V379.6M142.5 358.1V379.6M143.5 358.8V379.6M144.5 357.3V379.6M145.5 356.7V379.6M146.5 360.3V379.6M147.5 358.9V379.6M148.5 357.6V379.6M149.5 361.2V379.6M150.5 362.0V379.6M151.5 358.6V379.6M152.5 358.1V379.6M153.5 361.6V379.6M154.5 360.5V379.6M155.5 359.8V379.6M156.5 359.3V379.6M157.5 361.8V379.6M158.5 362.3V379.6M159.5 364.3V379.6M160.5 359.6V379.6M161.5 358.4V379.6M162.5 361.6V379.6M163.5 360.8V379.6M164.5 362.1V379.6M165.5 364.8V379.6M166.5 361.7V379.6M167.5 362.5V379.6M168.5 359.6V379.6M169.5 362.1V379.6M170.5 361.3V379.6M171.5 363.6V379.6M172.5 362.8V379.6M173.5 365.0V379.6M174.5 361.8V379.6M175.5 359.8V379.6M176.5 363.2V379.6M177.5 362.4V379.6M178.5 363.7V379.6M179.5 363.3V379.6M180.5 360.1V379.6M181.5 362.4V379.6M182.5 362.1V379.6M183.5 363.2V379.6M184.5 362.3V379.6M185.5 364.9V379.6M186.5 361.4V379.6M187.5 363.7V379.6M188.5 365.1V379.6M189.5 364.1V379.6M190.5 363.0V379.6M191.5 361.0V379.6M192.5 362.9V379.6M193.5 365.5V379.6M194.5 362.1V379.6M195.5 361.5V379.6M196.5 361.4V379.6M197.5 362.7V379.6M198.5 362.6V379.6M199.5 360.2V379.6M200.5 360.0V379.6M201.5 365.5V379.6M202.5 363.5V379.6M203.5 363.7V379.6M204.5 360.8V379.6M205.5 364.5V379.6M206.5 366.2V379.6M207.5 363.5V379.6M208.5 365.1V379.6M209.5 364.9V379.6M210.5 358.6V379.6M211.5 363.4V379.6M212.5 363.3V379.6M213.5 363.9V379.6M214.5 363.1V379.6M215.5 361.2V379.6M216.5 362.9V379.6M217.5 363.8V379.6M218.5 364.6V379.6M219.5 363.2V379.6M220.5 360.5V379.6M221.5 364.9V379.6M222.5 358.6V379.6M223.5 367.4V379.6M224.5 364.9V379.6M225.5 361.1V379.6M226.5 359.0V379.6M227.5 361.8V379.6M228.5 361.0V379.6M229.5 363.5V379.6M230.5 360.8V379.6M231.5 362.9V379.6M232.5 362.0V379.6M233.5 362.8V379.6M234.5 361.3V379.6M235.5 365.1V379.6M236.5 364.4V379.6M237.5 364.3V379.6M238.5 364.2V379.6M239.5 364.0V379.6M240.5 366.7V379.6M241.5 363.8V379.6M242.5 364.2V379.6M243.5 360.4V379.6M244.5 362.5V379.6M245.5 364.5V379.6M246.5 363.5V379.6M247.5 360.9V379.6M248.5 364.4V379.6M249.5 363.0V379.6M250.5 362.7V379.6M251.5 366.4V379.6M252.5 364.9V379.6M253.5 364.4V379.6M254.5 364.7V379.6" stroke="#40c8f2" stroke-width="1" fill="none"/>
<path d="M43.5 355.6V363.5M47.5 355.9V368.4M48.5 355.5V363.0M50.5 356.6V362.6M53.5 358.5V367.5M54.5 353.8V364.3M57.5 357.2V360.8M60.5 359.2V359.9M61.5 356.4V364.7M62.5 358.3V365.6M63.5 353.0V366.8M66.5 312.9V312.9M67.5 320.5V320.6M68.5 336.4V342.6M68.5 324.3V326.0M70.5 343.1V346.5M70.5 327.1V330.4M72.5 330.1V335.6M73.5 329.5V333.3M74.5 335.0V338.3M75.5 333.1V337.0M76.5 344.8V349.3M78.5 335.3V336.1M79.5 339.0V340.6M81.5 337.0V339.7M86.5 338.8V339.8M87.5 340.2V340.2M89.5 336.6V345.0M91.5 341.9V342.6M92.5 342.0V344.5M96.5 344.0V347.3M97.5 362.4V368.8M98.5 344.7V346.7M103.5 345.3V347.3M104.5 345.6V346.4M106.5 364.5V365.3M106.5 344.9V348.3M107.5 344.9V347.5M108.5 371.5V379.6M108.5 345.4V349.3M110.5 347.1V347.1M111.5 367.8V371.2M112.5 348.7V350.1M113.5 343.9V348.8M114.5 347.1V352.9M115.5 373.4V379.0M117.5 346.0V351.4M118.5 349.2V353.4M120.5 347.4V350.3M121.5 347.8V352.2M123.5 348.8V351.6M124.5 349.5V353.3M125.5 351.8V356.2M126.5 346.5V352.4M127.5 350.3V352.2M128.5 352.7V354.2M129.5 352.0V353.8M130.5 350.5V353.8M131.5 351.3V352.1M134.5 352.1V356.3M138.5 354.3V357.1M139.5 353.4V356.3M141.5 351.5V358.7M142.5 355.1V358.1M143.5 357.2V358.8M144.5 355.2V357.3M145.5 353.3V356.7M146.5 355.0V360.3M147.5 356.9V358.9M148.5 351.6V357.6M149.5 357.3V361.2M150.5 353.7V362.0M151.5 355.1V358.6M152.5 354.3V358.1M153.5 355.3V361.6M154.5 357.2V360.5M155.5 352.8V359.8M156.5 357.0V359.3M157.5 355.1V361.8M158.5 356.9V362.3M159.5 355.3V364.3M160.5 356.4V359.6M161.5 355.6V358.4M163.5 355.5V360.8M164.5 359.1V362.1M165.5 356.8V364.8M166.5 356.1V361.7M167.5 358.0V362.5M168.5 354.3V359.6M169.5 360.9V362.1M170.5 355.0V361.3M174.5 357.0V361.8M175.5 354.9V359.8M176.5 353.7V363.2M178.5 355.1V363.7M179.5 355.4V363.3M181.5 357.3V362.4M183.5 358.4V363.2M184.5 358.5V362.3M185.5 355.6V364.9M188.5 355.3V365.1M189.5 357.0V364.1M190.5 359.7V363.0M191.5 357.8V361.0M193.5 359.8V365.5M194.5 357.9V362.1M195.5 357.7V361.5M196.5 357.1V361.4M197.5 353.7V362.7M198.5 358.4V362.6M199.5 357.5V360.2M200.5 359.3V360.0M201.5 357.6V365.5M202.5 356.8V363.5M203.5 354.4V363.7M204.5 358.0V360.8M205.5 356.2V364.5M207.5 358.8V363.5M208.5 356.4V365.1M209.5 357.7V364.9M211.5 361.3V363.4M213.5 354.8V363.9M214.5 356.7V363.1M215.5 355.7V361.2M219.5 360.4V363.2M220.5 357.3V360.5M221.5 355.7V364.9M222.5 358.0V358.6M223.5 359.8V367.4M225.5 354.8V361.1M227.5 360.9V361.8M228.5 360.5V361.0M229.5 359.4V363.5M231.5 356.5V362.9M232.5 357.8V362.0M234.5 356.2V361.3M235.5 357.5V365.1M237.5 356.1V364.3M238.5 358.6V364.2M239.5 357.9V364.0M241.5 360.9V363.8M242.5 357.8V364.2M243.5 358.2V360.4M244.5 357.3V362.5M245.5 355.9V364.5M246.5 355.3V363.5M248.5 358.3V364.4M250.5 360.1V362.7M251.5 358.6V366.4" stroke="#40c8f2" stroke-opacity="0.6" stroke-width="1" fill="none"/>
<path d="M76.5 372.6V379.6M79.5 371.9V379.6M81.5 374.4V379.6M82.5 371.5V379.6M85.5 368.3V379.6M87.5 368.1V379.6M114.5 371.2V379.6M117.5 374.2V379.6M118.5 373.7V379.6M119.5 376.7V379.6M128.5 371.8V379.6M133.5 374.8V379.6M134.5 373.2V379.6M140.5 371.5V379.6M141.5 370.6V379.6M150.5 375.4V379.6M154.5 371.5V379.6M163.5 370.6V379.6M169.5 373.2V379.6M173.5 374.2V379.6M181.5 373.3V379.6M193.5 374.1V379.6M195.5 372.4V379.6M201.5 377.1V379.6M202.5 373.7V379.6M205.5 376.7V379.6M207.5 372.1V379.6M208.5 374.2V379.6M212.5 370.8V379.6M214.5 372.2V379.6M236.5 367.0V379.6M237.5 373.7V379.6M241.5 371.4V379.6M243.5 374.3V379.6M245.5 370.7V379.6M248.5 373.5V379.6M250.5 371.6V379.6" stroke="#65696c" stroke-opacity="0.5" stroke-width="1" fill="none"/>
<path d="M46.5 375.4V379.6M53.5 376.8V379.6M60.5 372.6V379.6M66.5 350.5V379.6M67.5 352.0V379.6M68.5 357.5V379.6M70.5 354.2V379.6M71.5 359.7V379.6M73.5 361.2V379.6M74.5 369.3V379.6M75.5 367.7V379.6M91.5 375.0V379.6M100.5 377.6V379.6M120.5 372.4V379.6M123.5 371.5V379.6M157.5 372.2V379.6M161.5 372.6V379.6M172.5 373.6V379.6M176.5 373.7V379.6M184.5 374.6V379.6M186.5 374.2V379.6M190.5 374.4V379.6M204.5 371.9V379.6M220.5 374.2V379.6M239.5 375.0V379.6" stroke="#65696c" stroke-opacity="0.8" stroke-width="1.1" fill="none"/>
<path d="M64.5 211.1V379.55" stroke="#65696c" stroke-width="1.2"/>
<path d="M65.2 244.46V379.55" stroke="#40c8f2" stroke-width="0.6"/>
</g>
<rect x="42.4" y="209.4" width="211.85" height="170.15" fill="none" stroke="#5e5e5e" stroke-width="1.2"/>
<path d="M42.4 210.6h3.2M42.4 222.18h2M42.4 249.08h3.2M42.4 260.66h2M42.4 287.56h3.2M42.4 299.14h2M42.4 326.04h3.2M42.4 337.62h2M42.4 364.52h3.2M42.4 376.1h2M42.2 379.55v-3M68.64 379.55v-2M95.08 379.55v-3M121.51 379.55v-2M147.95 379.55v-3M174.39 379.55v-2M200.82 379.55v-3M227.26 379.55v-2M253.7 379.55v-3" stroke="#5e5e5e" stroke-width="0.9"/>
<text x="38" y="213.29" font-family='"Liberation Sans", sans-serif' font-weight="bold" font-size="7.7" text-anchor="end" fill="#111" stroke="#111" stroke-width="0.3" >1</text>
<text x="38" y="251.77" font-family='"Liberation Sans", sans-serif' font-weight="bold" font-size="7.7" text-anchor="end" fill="#111" stroke="#111" stroke-width="0.3" >0.1</text>
<text x="38" y="290.25" font-family='"Liberation Sans", sans-serif' font-weight="bold" font-size="7.7" text-anchor="end" fill="#111" stroke="#111" stroke-width="0.3" >0.01</text>
<text x="38" y="328.73" font-family='"Liberation Sans", sans-serif' font-weight="bold" font-size="7.7" text-anchor="end" fill="#111" stroke="#111" stroke-width="0.3" >0.001</text>
<text x="38" y="367.21" font-family='"Liberation Sans", sans-serif' font-weight="bold" font-size="7.7" text-anchor="end" fill="#111" stroke="#111" stroke-width="0.3" >1E-4</text>
<text x="42.2" y="388.64" font-family='"Liberation Sans", sans-serif' font-weight="bold" font-size="7.7" text-anchor="middle" fill="#111" stroke="#111" stroke-width="0.3" >0</text>
<text x="95.08" y="388.64" font-family='"Liberation Sans", sans-serif' font-weight="bold" font-size="7.7" text-anchor="middle" fill="#111" stroke="#111" stroke-width="0.3" >5000</text>
<text x="147.95" y="388.64" font-family='"Liberation Sans", sans-serif' font-weight="bold" font-size="7.7" text-anchor="middle" fill="#111" stroke="#111" stroke-width="0.3" >10000</text>
<text x="200.82" y="388.64" font-family='"Liberation Sans", sans-serif' font-weight="bold" font-size="7.7" text-anchor="middle" fill="#111" stroke="#111" stroke-width="0.3" >15000</text>
<text x="253.7" y="388.64" font-family='"Liberation Sans", sans-serif' font-weight="bold" font-size="7.7" text-anchor="middle" fill="#111" stroke="#111" stroke-width="0.3" >20000</text>
<text transform="translate(9,290) rotate(-90)" x="0" y="0" font-family='"Liberation Sans", sans-serif' font-weight="bold" font-size="8.6" text-anchor="middle" fill="#111" stroke="#111" stroke-width="0.4">Normalized Counts</text>
<text x="131.1" y="404.2" font-family='"Liberation Sans", sans-serif' font-weight="bold" font-size="8.6" text-anchor="start" fill="#111" stroke="#111" stroke-width="0.4" >Time(ns)</text>
<text x="18.2" y="209.8" font-family='"Liberation Serif", serif' font-weight="bold" font-size="16" text-anchor="start" fill="#111" stroke="#111" stroke-width="0.45" >c)</text>
<rect x="116.6" y="214.5" width="126" height="110.6" fill="#fff"/>
<clipPath id="ic"><rect x="116.6" y="214.5" width="126" height="110.6"/></clipPath>
<g clip-path="url(#ic)">
<path d="M116.5 301.6V325.1M117.5 299.1V325.1M118.5 295.8V325.1M119.5 306.2V325.1M120.5 298.9V325.1M121.5 295.5V325.1M122.5 294.9V325.1M123.5 298.6V325.1M124.5 297.9V325.1M125.5 297.1V325.1M126.5 294.1V325.1M127.5 296.4V325.1M128.5 299.1V325.1M130.5 216.6V218.4M131.5 216.6V217.9M132.5 218.3V221.5M133.5 220.0V223.9M134.5 222.3V224.1M135.5 222.4V225.5M136.5 223.2V226.8M137.5 224.9V227.9M138.5 225.0V228.3M139.5 225.9V230.0M140.5 227.3V230.4M141.5 227.9V231.8M142.5 228.2V232.3M143.5 230.3V233.4M144.5 230.2V235.0M145.5 230.9V235.1M146.5 233.0V236.7M147.5 233.1V237.2M148.5 234.5V238.8M149.5 235.6V239.7M150.5 236.1V241.2M151.5 237.6V242.3M152.5 237.8V243.0M153.5 239.6V244.2M154.5 240.4V244.6M155.5 240.3V246.4M156.5 241.5V247.1M157.5 242.1V248.1M158.5 243.7V248.7M159.5 244.1V249.5M160.5 245.6V250.6M161.5 246.8V251.6M162.5 247.5V251.7M163.5 247.4V254.0M164.5 248.6V254.9M165.5 248.5V256.2M166.5 251.4V256.2M167.5 251.5V257.6M168.5 253.6V258.8M169.5 253.0V259.6M170.5 253.8V261.3M171.5 255.7V261.1M172.5 256.4V261.5M173.5 257.3V264.9M174.5 257.6V264.5M175.5 259.0V266.3M176.5 260.0V266.2M177.5 260.6V268.5M178.5 260.2V268.8M179.5 263.4V271.1M180.5 262.9V271.5M181.5 262.7V271.6M182.5 264.7V272.8M183.5 265.3V272.9M184.5 265.5V274.9M185.5 265.9V277.4M186.5 269.1V276.7M187.5 268.4V279.4M188.5 269.0V278.9M189.5 272.5V280.4M190.5 271.3V282.6M191.5 271.7V280.9M192.5 273.8V282.1M193.5 272.4V285.6M194.5 275.5V285.3M195.5 274.7V284.8M196.5 274.5V286.4M197.5 275.2V291.7M198.5 275.5V286.2M199.5 274.8V291.0M200.5 279.3V293.2M201.5 278.5V289.8M202.5 279.0V292.0M203.5 281.3V294.2M204.5 282.5V295.9M205.5 282.4V297.8M206.5 281.4V296.8M207.5 286.4V295.5M208.5 283.9V296.8M209.5 283.6V300.5M210.5 286.4V300.0M211.5 285.9V299.2M212.5 286.7V300.9M213.5 288.9V306.4M214.5 289.0V303.7M215.5 290.7V305.5M216.5 290.4V305.7M217.5 287.5V309.1M218.5 294.1V305.5M219.5 290.6V308.0M220.5 291.7V309.5M221.5 294.1V311.6M222.5 290.1V314.6M223.5 294.0V308.2M224.5 290.9V313.2M225.5 295.7V312.6M226.5 293.7V316.7M227.5 292.6V309.8M228.5 295.8V315.7M229.5 293.0V315.4M230.5 297.4V320.1M231.5 299.9V316.1M232.5 294.7V315.0M233.5 296.4V315.1M234.5 297.8V320.1M235.5 299.2V317.9M236.5 299.6V320.5M237.5 303.0V327.8M238.5 297.3V322.8M239.5 298.7V324.9M240.5 295.9V325.0M241.5 297.4V320.0M242.5 302.9V328.1" stroke="#40c8f2" stroke-width="1" fill="none"/>
<path d="M118.5 288.7V295.8M119.5 297.9V306.2M127.5 292.4V296.4M128.5 291.3V299.1M157.5 248.1V249.6M159.5 249.5V249.6M161.5 245.7V246.8M165.5 256.2V258.1M166.5 251.2V251.4M167.5 257.6V258.3M168.5 253.2V253.6M168.5 258.8V260.3M169.5 252.4V253.0M171.5 254.1V255.7M172.5 261.5V263.4M173.5 257.2V257.3M174.5 257.5V257.6M175.5 257.7V259.0M177.5 268.5V268.9M182.5 264.6V264.7M183.5 272.9V276.3M184.5 264.0V265.5M184.5 274.9V275.4M185.5 265.7V265.9M186.5 276.7V280.0M187.5 267.4V268.4M188.5 278.9V279.8M195.5 284.8V287.9M196.5 274.2V274.5M199.5 272.6V274.8M199.5 291.0V293.2M201.5 278.3V278.5M202.5 276.1V279.0M209.5 280.9V283.6M210.5 285.5V286.4M212.5 300.9V307.0M213.5 306.4V307.4M214.5 285.5V289.0M214.5 303.7V306.1M217.5 309.1V315.8M218.5 292.4V294.1M225.5 293.1V295.7M225.5 312.6V313.6M226.5 316.7V317.5M227.5 309.8V312.3M230.5 292.4V297.4M236.5 320.5V322.3M237.5 327.8V329.2M238.5 292.9V297.3M240.5 290.7V295.9" stroke="#40c8f2" stroke-opacity="0.5" stroke-width="1" fill="none"/>
<path d="M129.26 325.1L131.18 216.6" stroke="#40c8f2" stroke-width="1"/>
<path d="M128.84 330.63 L130.85 218.23 L131.36 216.6 L131.99 218.77 L134.25 297.51 L141.55 325.2 L142.18 327.91" stroke="#6d7c81" stroke-width="1.5" fill="none" stroke-linejoin="round"/>
</g>
<rect x="116.6" y="214.5" width="126" height="110.6" fill="none" stroke="#000" stroke-width="1.6"/>
<path d="M116.6 308.85h1.6M116.6 299.29h1.6M116.6 292.51h1.6M116.6 287.25h1.6M116.6 282.95h1.6M116.6 279.31h1.6M116.6 276.16h1.6M116.6 273.38h1.6M116.6 270.9h2.6M116.6 270.9h2.6M116.6 254.55h1.6M116.6 244.99h1.6M116.6 238.21h1.6M116.6 232.95h1.6M116.6 228.65h1.6M116.6 225.01h1.6M116.6 221.86h1.6M116.6 219.08h1.6M116.6 216.6h2.6M129.09 325.1v-1.5M141.68 325.1v-2.4M154.27 325.1v-1.5M166.86 325.1v-2.4M179.45 325.1v-1.5M192.04 325.1v-2.4M204.63 325.1v-1.5M217.22 325.1v-2.4M229.81 325.1v-1.5" stroke="#000" stroke-width="0.8"/>
<text x="114.9" y="218.81" font-family='"Liberation Sans", sans-serif' font-weight="bold" font-size="6.3" text-anchor="end" fill="#111" stroke="#111" stroke-width="0.3">10<tspan font-size="4" dy="-2.8">0</tspan></text>
<text x="114.9" y="273.1" font-family='"Liberation Sans", sans-serif' font-weight="bold" font-size="6.3" text-anchor="end" fill="#111" stroke="#111" stroke-width="0.3">10<tspan font-size="4" dy="-2.8">-1</tspan></text>
<text x="114.9" y="327.4" font-family='"Liberation Sans", sans-serif' font-weight="bold" font-size="6.3" text-anchor="end" fill="#111" stroke="#111" stroke-width="0.3">10<tspan font-size="4" dy="-2.8">-2</tspan></text>
<text x="116.5" y="332.7" font-family='"Liberation Sans", sans-serif' font-weight="bold" font-size="6.3" text-anchor="middle" fill="#111" stroke="#111" stroke-width="0.3" >0</text>
<text x="141.68" y="332.7" font-family='"Liberation Sans", sans-serif' font-weight="bold" font-size="6.3" text-anchor="middle" fill="#111" stroke="#111" stroke-width="0.3" >20</text>
<text x="166.86" y="332.7" font-family='"Liberation Sans", sans-serif' font-weight="bold" font-size="6.3" text-anchor="middle" fill="#111" stroke="#111" stroke-width="0.3" >40</text>
<text x="192.04" y="332.7" font-family='"Liberation Sans", sans-serif' font-weight="bold" font-size="6.3" text-anchor="middle" fill="#111" stroke="#111" stroke-width="0.3" >60</text>
<text x="217.22" y="332.7" font-family='"Liberation Sans", sans-serif' font-weight="bold" font-size="6.3" text-anchor="middle" fill="#111" stroke="#111" stroke-width="0.3" >80</text>
<text x="242.4" y="332.7" font-family='"Liberation Sans", sans-serif' font-weight="bold" font-size="6.3" text-anchor="middle" fill="#111" stroke="#111" stroke-width="0.3" >100</text>
<text transform="translate(95.4,270.2) rotate(-90)" x="0" y="0" font-family='"Liberation Sans", sans-serif' font-weight="bold" font-size="12.1" text-anchor="middle" fill="#111" stroke="#111" stroke-width="0.45">Normalized Counts</text>
<text x="156.2" y="349.3" font-family='"Liberation Sans", sans-serif' font-weight="bold" font-size="11.4" text-anchor="start" fill="#111" stroke="#111" stroke-width="0.45" >Time(ns)</text>
<path d="M164 225.6H183.8" stroke="#40c8f2" stroke-width="1.15"/>
<path d="M164 237H183.8" stroke="#939a9e" stroke-width="1.2"/>
<text x="186.8" y="228.5" font-family='"Liberation Sans", sans-serif' font-weight="bold" font-size="8.6" text-anchor="start" fill="#111" stroke="#111" stroke-width="0.3" >P15-film-Ar</text>
<text x="186.8" y="239.5" font-family='"Liberation Sans", sans-serif' font-weight="bold" font-size="8.6" text-anchor="start" fill="#111" stroke="#111" stroke-width="0.3" >IRF</text>
<clipPath id="cd"><rect x="307.7" y="210.8" width="211.4" height="170"/></clipPath>
<g clip-path="url(#cd)">
<path d="M307.5 365.8V381.1M308.5 367.7V381.1M309.5 367.7V381.1M310.5 367.2V381.1M311.5 366.5V381.1M312.5 363.4V381.1M313.5 366.0V381.1M314.5 366.3V381.1M315.5 362.9V381.1M316.5 360.3V381.1M317.5 365.5V381.1M318.5 366.4V381.1M319.5 367.8V381.1M320.5 367.4V381.1M321.5 359.1V381.1M322.5 367.5V381.1M323.5 366.3V381.1M324.5 366.7V381.1M325.5 364.2V381.1M326.5 367.8V381.1M327.5 365.9V381.1M328.5 367.2V381.1M330.5 308.0V326.7M331.5 319.0V331.4M332.5 321.1V335.0M333.5 324.5V332.8M334.5 325.1V335.5M335.5 325.7V337.3M336.5 328.5V338.6M337.5 332.7V336.8M338.5 335.4V341.9M339.5 336.1V341.7M340.5 335.0V343.6M341.5 332.6V342.7M342.5 337.8V346.1M343.5 336.7V348.6M344.5 333.4V340.7M345.5 338.8V349.3M346.5 336.9V350.5M347.5 341.9V351.6M348.5 340.4V348.6M349.5 340.4V351.8M350.5 340.4V357.5M351.5 340.6V351.8M352.5 344.2V355.5M353.5 341.4V353.4M354.5 344.3V359.2M355.5 342.6V353.8M356.5 345.4V361.4M357.5 344.8V354.9M358.5 341.1V360.8M359.5 344.9V362.6M360.5 344.2V359.3M361.5 342.2V356.7M362.5 339.5V364.0M363.5 344.7V362.9M364.5 344.8V362.9M365.5 346.7V365.6M366.5 346.0V361.7M367.5 349.8V360.6M368.5 349.6V360.5M369.5 347.5V363.0M370.5 351.5V360.8M371.5 351.2V362.8M372.5 350.5V371.1M373.5 353.0V367.2M374.5 350.9V368.1M375.5 353.1V372.5M376.5 351.4V367.2M377.5 353.8V369.7M378.5 352.0V370.4M379.5 352.1V368.0M380.5 351.5V369.2M381.5 350.5V373.2M382.5 351.0V373.7M383.5 352.8V374.5M384.5 355.4V371.5M385.5 354.3V378.1M386.5 356.5V371.9M387.5 357.3V378.6M388.5 357.4V374.4M389.5 358.9V377.3M390.5 354.1V381.1M391.5 356.4V381.1M392.5 353.7V381.1M393.5 355.8V381.1M394.5 359.9V381.1M395.5 360.6V381.1M396.5 356.8V381.1M397.5 356.6V381.1M398.5 357.8V381.1M399.5 358.6V381.1M400.5 359.0V381.1M401.5 358.2V381.1M402.5 355.9V381.1M403.5 359.7V381.1M404.5 358.3V381.1M405.5 359.3V381.1M406.5 359.6V381.1M407.5 361.8V381.1M408.5 361.5V381.1M409.5 358.1V381.1M410.5 363.7V381.1M411.5 363.5V381.1M412.5 362.4V381.1M413.5 364.5V381.1M414.5 362.2V381.1M415.5 363.0V381.1M416.5 360.9V381.1M417.5 362.3V381.1M418.5 363.6V381.1M419.5 361.1V381.1M420.5 365.4V381.1M421.5 361.9V381.1M422.5 360.4V381.1M423.5 362.7V381.1M424.5 364.3V381.1M425.5 364.7V381.1M426.5 365.4V381.1M427.5 366.5V381.1M428.5 364.8V381.1M429.5 363.8V381.1M430.5 364.6V381.1M431.5 363.7V381.1M432.5 362.2V381.1M433.5 363.2V381.1M434.5 365.6V381.1M435.5 365.4V381.1M436.5 362.0V381.1M437.5 361.7V381.1M438.5 365.7V381.1M439.5 363.8V381.1M440.5 366.5V381.1M441.5 362.3V381.1M442.5 366.5V381.1M443.5 360.7V381.1M444.5 365.1V381.1M445.5 362.6V381.1M446.5 361.2V381.1M447.5 364.8V381.1M448.5 365.4V381.1M449.5 363.3V381.1M450.5 368.2V381.1M451.5 369.5V381.1M452.5 366.3V381.1M453.5 365.9V381.1M454.5 365.6V381.1M455.5 365.0V381.1M456.5 366.0V381.1M457.5 367.1V381.1M458.5 361.3V381.1M459.5 366.0V381.1M460.5 362.8V381.1M461.5 365.7V381.1M462.5 364.6V381.1M463.5 362.0V381.1M464.5 366.4V381.1M465.5 363.6V381.1M466.5 364.5V381.1M467.5 368.5V381.1M468.5 363.7V381.1M469.5 362.7V381.1M470.5 362.5V381.1M471.5 366.8V381.1M472.5 367.6V381.1M473.5 365.6V381.1M474.5 364.7V381.1M475.5 364.4V381.1M476.5 363.8V381.1M477.5 365.0V381.1M478.5 362.2V381.1M479.5 361.8V381.1M480.5 365.5V381.1M481.5 362.5V381.1M482.5 362.1V381.1M483.5 364.2V381.1M484.5 364.4V381.1M485.5 367.0V381.1M486.5 365.8V381.1M487.5 364.7V381.1M488.5 364.1V381.1M489.5 362.9V381.1M490.5 366.0V381.1M491.5 367.7V381.1M492.5 366.3V381.1M493.5 364.4V381.1M494.5 364.7V381.1M495.5 362.6V381.1M496.5 366.4V381.1M497.5 362.9V381.1M498.5 366.1V381.1M499.5 366.2V381.1M500.5 364.6V381.1M501.5 364.3V381.1M502.5 364.3V381.1M503.5 362.3V381.1M504.5 365.5V381.1M505.5 362.9V381.1M506.5 364.1V381.1M507.5 366.0V381.1M508.5 365.8V381.1M509.5 362.2V381.1M510.5 362.8V381.1M511.5 363.7V381.1M512.5 361.4V381.1M513.5 362.6V381.1M514.5 364.0V381.1M515.5 366.3V381.1M516.5 367.8V381.1M517.5 362.8V381.1M518.5 366.5V381.1M519.5 366.4V381.1" stroke="#40c8f2" stroke-width="1" fill="none"/>
<path d="M308.5 361.7V367.7M309.5 361.7V367.7M311.5 358.1V366.5M313.5 355.6V366.0M314.5 358.7V366.3M316.5 357.5V360.3M318.5 358.2V366.4M319.5 358.1V367.8M325.5 358.0V364.2M326.5 358.8V367.8M327.5 362.4V365.9M328.5 356.6V367.2M332.5 335.0V342.7M332.5 319.4V321.1M333.5 332.8V336.0M333.5 322.3V324.5M337.5 330.1V332.7M338.5 330.4V335.4M339.5 334.8V336.1M340.5 333.1V335.0M342.5 332.3V337.8M343.5 335.6V336.7M345.5 334.6V338.8M348.5 348.6V349.3M350.5 337.9V340.4M351.5 351.8V358.8M351.5 340.4V340.6M352.5 339.7V344.2M353.5 337.5V341.4M354.5 339.0V344.3M355.5 353.8V354.9M355.5 342.5V342.6M356.5 340.2V345.4M357.5 342.5V344.8M360.5 341.7V344.2M362.5 338.1V339.5M363.5 362.9V366.9M365.5 342.5V346.7M367.5 360.6V360.9M368.5 344.4V349.6M369.5 345.2V347.5M370.5 360.8V365.7M371.5 344.6V351.2M373.5 367.2V370.7M373.5 348.0V353.0M375.5 372.5V379.7M375.5 348.6V353.1M376.5 346.5V351.4M377.5 348.6V353.8M378.5 349.4V352.0M379.5 350.1V352.1M380.5 350.1V351.5M382.5 349.5V351.0M383.5 374.5V379.9M385.5 351.6V354.3M386.5 371.9V377.9M386.5 350.8V356.5M387.5 378.6V381.1M387.5 352.5V357.3M388.5 349.8V357.4M392.5 353.3V353.7M394.5 354.0V359.9M395.5 353.7V360.6M398.5 354.4V357.8M399.5 354.2V358.6M400.5 354.8V359.0M401.5 355.0V358.2M402.5 353.0V355.9M403.5 355.9V359.7M405.5 354.7V359.3M406.5 356.6V359.6M409.5 357.7V358.1M410.5 357.1V363.7M411.5 356.0V363.5M412.5 357.8V362.4M413.5 358.5V364.5M414.5 354.0V362.2M415.5 358.9V363.0M416.5 356.3V360.9M417.5 359.9V362.3M418.5 359.5V363.6M419.5 358.6V361.1M421.5 356.8V361.9M422.5 359.0V360.4M423.5 362.2V362.7M424.5 355.6V364.3M427.5 359.3V366.5M428.5 357.6V364.8M429.5 356.9V363.8M431.5 358.6V363.7M432.5 361.1V362.2M433.5 360.4V363.2M436.5 359.8V362.0M437.5 359.9V361.7M438.5 359.2V365.7M439.5 361.1V363.8M440.5 358.6V366.5M441.5 358.2V362.3M442.5 361.3V366.5M443.5 359.4V360.7M444.5 360.4V365.1M445.5 359.4V362.6M446.5 358.5V361.2M448.5 362.2V365.4M449.5 361.6V363.3M450.5 363.7V368.2M451.5 357.1V369.5M452.5 359.3V366.3M453.5 355.8V365.9M460.5 358.4V362.8M461.5 359.8V365.7M462.5 361.2V364.6M465.5 361.2V363.6M466.5 357.5V364.5M468.5 362.8V363.7M469.5 360.7V362.7M471.5 359.9V366.8M472.5 359.6V367.6M473.5 361.5V365.6M476.5 358.8V363.8M478.5 357.3V362.2M479.5 358.6V361.8M482.5 359.3V362.1M485.5 360.0V367.0M486.5 359.8V365.8M487.5 361.0V364.7M488.5 359.8V364.1M489.5 362.0V362.9M492.5 358.4V366.3M494.5 362.5V364.7M495.5 359.7V362.6M496.5 360.4V366.4M497.5 362.4V362.9M498.5 358.0V366.1M499.5 358.6V366.2M500.5 358.3V364.6M501.5 359.8V364.3M502.5 361.8V364.3M504.5 358.4V365.5M505.5 360.7V362.9M506.5 359.0V364.1M507.5 360.4V366.0M515.5 360.5V366.3M516.5 361.4V367.8" stroke="#40c8f2" stroke-opacity="0.6" stroke-width="1" fill="none"/>
<path d="M312.5 374.8V381.1M321.5 374.2V381.1M323.5 372.6V381.1M342.5 369.8V381.1M345.5 373.9V381.1M347.5 371.3V381.1M350.5 370.8V381.1M351.5 371.1V381.1M356.5 372.5V381.1M357.5 375.4V381.1M360.5 375.0V381.1M364.5 374.9V381.1M369.5 376.7V381.1M371.5 375.1V381.1M390.5 372.3V381.1M394.5 374.9V381.1M396.5 373.9V381.1M399.5 373.7V381.1M400.5 376.9V381.1M403.5 373.4V381.1M409.5 373.1V381.1M418.5 372.6V381.1M425.5 373.9V381.1M437.5 373.0V381.1M438.5 375.1V381.1M469.5 376.3V381.1M470.5 377.8V381.1M475.5 375.3V381.1M479.5 372.8V381.1M482.5 374.3V381.1M485.5 373.3V381.1M496.5 374.6V381.1M500.5 371.5V381.1M508.5 373.8V381.1M509.5 373.2V381.1M510.5 371.5V381.1M514.5 376.4V381.1" stroke="#65696c" stroke-opacity="0.5" stroke-width="1" fill="none"/>
<path d="M329.5 374.5V381.1M330.5 358.3V381.1M331.5 354.4V381.1M333.5 355.1V381.1M334.5 358.0V381.1M335.5 360.4V381.1M336.5 363.4V381.1M337.5 362.4V381.1M338.5 365.0V381.1M339.5 367.0V381.1M340.5 366.0V381.1M379.5 375.3V381.1M381.5 375.5V381.1M393.5 376.5V381.1M404.5 376.1V381.1M408.5 375.4V381.1M412.5 376.5V381.1M424.5 371.9V381.1M442.5 375.0V381.1M448.5 376.1V381.1M450.5 375.6V381.1M452.5 379.1V381.1M473.5 376.6V381.1M474.5 376.5V381.1" stroke="#65696c" stroke-opacity="0.8" stroke-width="1.1" fill="none"/>
<path d="M329.2 212.6V381.1" stroke="#65696c" stroke-width="1.2"/>
<path d="M329.9 245.96V381.1" stroke="#40c8f2" stroke-width="0.6"/>
</g>
<rect x="307.4" y="210.8" width="212" height="170.3" fill="none" stroke="#5e5e5e" stroke-width="1.2"/>
<path d="M307.4 212.1h3.2M307.4 223.68h2M307.4 250.58h3.2M307.4 262.16h2M307.4 289.06h3.2M307.4 300.64h2M307.4 327.54h3.2M307.4 339.12h2M307.4 366.02h3.2M307.4 377.6h2M307.2 381.1v-3M333.66 381.1v-2M360.12 381.1v-3M386.59 381.1v-2M413.05 381.1v-3M439.51 381.1v-2M465.97 381.1v-3M492.44 381.1v-2M518.9 381.1v-3" stroke="#5e5e5e" stroke-width="0.9"/>
<text x="303" y="214.79" font-family='"Liberation Sans", sans-serif' font-weight="bold" font-size="7.7" text-anchor="end" fill="#111" stroke="#111" stroke-width="0.3" >1</text>
<text x="303" y="253.27" font-family='"Liberation Sans", sans-serif' font-weight="bold" font-size="7.7" text-anchor="end" fill="#111" stroke="#111" stroke-width="0.3" >0.1</text>
<text x="303" y="291.75" font-family='"Liberation Sans", sans-serif' font-weight="bold" font-size="7.7" text-anchor="end" fill="#111" stroke="#111" stroke-width="0.3" >0.01</text>
<text x="303" y="330.23" font-family='"Liberation Sans", sans-serif' font-weight="bold" font-size="7.7" text-anchor="end" fill="#111" stroke="#111" stroke-width="0.3" >0.001</text>
<text x="303" y="368.71" font-family='"Liberation Sans", sans-serif' font-weight="bold" font-size="7.7" text-anchor="end" fill="#111" stroke="#111" stroke-width="0.3" >1E-4</text>
<text x="307.2" y="390.14" font-family='"Liberation Sans", sans-serif' font-weight="bold" font-size="7.7" text-anchor="middle" fill="#111" stroke="#111" stroke-width="0.3" >0</text>
<text x="360.12" y="390.14" font-family='"Liberation Sans", sans-serif' font-weight="bold" font-size="7.7" text-anchor="middle" fill="#111" stroke="#111" stroke-width="0.3" >5000</text>
<text x="413.05" y="390.14" font-family='"Liberation Sans", sans-serif' font-weight="bold" font-size="7.7" text-anchor="middle" fill="#111" stroke="#111" stroke-width="0.3" >10000</text>
<text x="465.97" y="390.14" font-family='"Liberation Sans", sans-serif' font-weight="bold" font-size="7.7" text-anchor="middle" fill="#111" stroke="#111" stroke-width="0.3" >15000</text>
<text x="518.9" y="390.14" font-family='"Liberation Sans", sans-serif' font-weight="bold" font-size="7.7" text-anchor="middle" fill="#111" stroke="#111" stroke-width="0.3" >20000</text>
<text transform="translate(273.3,291.4) rotate(-90)" x="0" y="0" font-family='"Liberation Sans", sans-serif' font-weight="bold" font-size="8.6" text-anchor="middle" fill="#111" stroke="#111" stroke-width="0.4">Normalized Counts</text>
<text x="395.2" y="405.6" font-family='"Liberation Sans", sans-serif' font-weight="bold" font-size="8.6" text-anchor="start" fill="#111" stroke="#111" stroke-width="0.4" >Time(ns)</text>
<text x="277.9" y="209.8" font-family='"Liberation Serif", serif' font-weight="bold" font-size="16" text-anchor="start" fill="#111" stroke="#111" stroke-width="0.45" >d)</text>
<rect x="378.75" y="217.55" width="131.5" height="112.7" fill="#fff"/>
<clipPath id="id"><rect x="378.75" y="217.55" width="131.5" height="112.7"/></clipPath>
<g clip-path="url(#id)">
<path d="M378.5 299.7V330.2M379.5 301.4V330.2M380.5 302.6V330.2M381.5 303.5V330.2M382.5 302.0V330.2M383.5 303.5V330.2M384.5 305.7V330.2M385.5 305.4V330.2M386.5 302.6V330.2M387.5 303.2V330.2M388.5 303.5V330.2M389.5 302.9V330.2M390.5 303.0V330.2M391.5 302.4V330.2M393.5 219.7V220.7M394.5 219.7V222.9M395.5 223.3V226.8M396.5 225.6V229.1M397.5 226.8V229.5M398.5 227.1V230.8M399.5 228.1V232.1M400.5 229.6V232.2M401.5 229.7V233.8M402.5 231.0V234.6M403.5 231.7V236.0M404.5 233.3V236.7M405.5 232.8V237.4M406.5 234.3V239.5M407.5 235.7V239.5M408.5 237.2V240.3M409.5 237.6V241.8M410.5 237.6V242.6M411.5 238.9V243.1M412.5 239.0V244.8M413.5 240.5V246.7M414.5 241.8V246.4M415.5 242.8V246.5M416.5 242.8V248.3M417.5 245.0V248.8M418.5 245.0V251.1M419.5 246.1V250.8M420.5 246.3V252.4M421.5 248.6V253.5M422.5 249.4V253.8M423.5 249.7V255.2M424.5 251.2V254.6M425.5 251.8V257.4M426.5 252.4V258.6M427.5 252.5V259.8M428.5 254.5V259.2M429.5 255.7V260.9M430.5 256.7V262.2M431.5 257.7V263.5M432.5 257.5V264.4M433.5 258.3V264.4M434.5 259.1V265.8M435.5 259.9V267.6M436.5 260.2V267.1M437.5 261.3V269.8M438.5 262.3V269.8M439.5 263.2V269.5M440.5 264.6V271.7M441.5 265.2V273.4M442.5 267.1V275.0M443.5 267.2V274.8M444.5 269.4V274.2M445.5 269.2V275.9M446.5 269.8V278.2M447.5 270.7V279.8M448.5 271.5V280.6M449.5 270.7V282.1M450.5 272.9V281.2M451.5 272.8V282.5M452.5 273.0V281.8M453.5 274.4V285.6M454.5 273.9V287.3M455.5 277.5V286.7M456.5 277.6V287.0M457.5 275.8V286.4M458.5 280.1V289.4M459.5 280.1V289.3M460.5 278.7V294.0M461.5 281.1V292.5M462.5 279.9V295.0M463.5 281.7V295.0M464.5 284.1V294.9M465.5 282.8V297.2M466.5 286.9V297.6M467.5 282.4V299.6M468.5 283.4V301.0M469.5 285.8V298.7M470.5 287.8V303.1M471.5 289.7V304.8M472.5 291.6V306.9M473.5 289.6V305.0M474.5 290.2V305.5M475.5 290.8V307.5M476.5 289.4V306.3M477.5 293.3V308.1M478.5 292.3V306.7M479.5 292.2V312.1M480.5 292.9V310.3M481.5 296.3V311.9M482.5 292.5V313.0M483.5 295.3V310.3M484.5 295.7V317.0M485.5 298.5V314.5M486.5 298.1V314.7M487.5 299.2V316.7M488.5 296.5V323.2M489.5 296.8V321.4M490.5 298.2V317.4M491.5 302.8V318.2M492.5 298.5V319.1M493.5 305.2V322.7M494.5 305.6V322.5M495.5 303.1V324.5M496.5 305.5V331.0M497.5 303.2V325.4M498.5 301.6V325.2M499.5 305.0V326.8M500.5 303.3V327.9M501.5 305.3V327.1M502.5 302.9V332.1M503.5 306.1V332.2M504.5 304.8V329.3M505.5 306.4V331.2M506.5 305.8V330.0M507.5 308.5V329.4M508.5 306.4V336.8M509.5 304.0V333.4M510.5 310.6V334.0" stroke="#40c8f2" stroke-width="1" fill="none"/>
<path d="M381.5 295.6V303.5M385.5 301.9V305.4M386.5 297.8V302.6M387.5 297.7V303.2M388.5 297.4V303.5M389.5 297.4V302.9M423.5 248.9V249.7M423.5 255.2V256.6M424.5 254.6V255.6M427.5 259.8V261.8M429.5 254.4V255.7M429.5 260.9V261.2M430.5 262.2V264.5M431.5 257.2V257.7M432.5 264.4V265.8M433.5 264.4V265.4M434.5 265.8V268.4M436.5 267.1V267.1M437.5 269.8V271.4M439.5 262.8V263.2M440.5 271.7V274.0M441.5 273.4V273.8M442.5 266.3V267.1M442.5 275.0V276.9M443.5 274.8V277.8M445.5 268.5V269.2M445.5 275.9V278.7M446.5 278.2V281.3M447.5 269.6V270.7M449.5 282.1V285.3M451.5 271.7V272.8M455.5 276.0V277.5M457.5 274.2V275.8M457.5 286.4V290.0M458.5 277.3V280.1M460.5 294.0V298.7M462.5 295.0V299.8M463.5 280.4V281.7M463.5 295.0V297.6M465.5 280.2V282.8M466.5 297.6V302.1M467.5 299.6V304.1M468.5 280.3V283.4M469.5 285.3V285.8M473.5 305.0V311.0M477.5 292.8V293.3M477.5 308.1V311.7M480.5 310.3V310.5M481.5 311.9V312.9M482.5 313.0V314.8M484.5 294.8V295.7M485.5 298.0V298.5M485.5 314.5V316.0M487.5 316.7V317.7M488.5 323.2V325.0M489.5 321.4V326.6M490.5 317.4V324.0M491.5 301.4V302.8M491.5 318.2V323.6M492.5 298.2V298.5M492.5 319.1V323.8M495.5 324.5V329.1M496.5 331.0V331.2M498.5 325.2V333.9M500.5 299.3V303.3M500.5 327.9V334.1M502.5 332.1V340.2M503.5 332.2V340.4M505.5 300.4V306.4M507.5 308.0V308.5M508.5 336.8V347.6" stroke="#40c8f2" stroke-opacity="0.5" stroke-width="1" fill="none"/>
<path d="M391.9 330.25L393.86 219.7" stroke="#40c8f2" stroke-width="1"/>
<path d="M391.47 335.41 L393.5 221.35 L394.03 219.7 L394.68 221.9 L396.85 301.8 L404.2 329.9 L404.86 332.65" stroke="#6d7c81" stroke-width="1.5" fill="none" stroke-linejoin="round"/>
</g>
<rect x="378.75" y="217.55" width="131.5" height="112.7" fill="none" stroke="#000" stroke-width="1.6"/>
<path d="M378.75 313.31h1.6M378.75 303.61h1.6M378.75 296.73h1.6M378.75 291.39h1.6M378.75 287.02h1.6M378.75 283.34h1.6M378.75 280.14h1.6M378.75 277.32h1.6M378.75 274.8h2.6M378.75 274.8h2.6M378.75 258.21h1.6M378.75 248.51h1.6M378.75 241.63h1.6M378.75 236.29h1.6M378.75 231.92h1.6M378.75 228.24h1.6M378.75 225.04h1.6M378.75 222.22h1.6M378.75 219.7h2.6M391.73 330.25v-1.5M404.86 330.25v-2.4M417.99 330.25v-1.5M431.12 330.25v-2.4M444.25 330.25v-1.5M457.38 330.25v-2.4M470.51 330.25v-1.5M483.64 330.25v-2.4M496.77 330.25v-1.5" stroke="#000" stroke-width="0.8"/>
<text x="376.9" y="221.91" font-family='"Liberation Sans", sans-serif' font-weight="bold" font-size="6.3" text-anchor="end" fill="#111" stroke="#111" stroke-width="0.3">10<tspan font-size="4" dy="-2.8">0</tspan></text>
<text x="376.9" y="277" font-family='"Liberation Sans", sans-serif' font-weight="bold" font-size="6.3" text-anchor="end" fill="#111" stroke="#111" stroke-width="0.3">10<tspan font-size="4" dy="-2.8">-1</tspan></text>
<text x="376.9" y="332.1" font-family='"Liberation Sans", sans-serif' font-weight="bold" font-size="6.3" text-anchor="end" fill="#111" stroke="#111" stroke-width="0.3">10<tspan font-size="4" dy="-2.8">-2</tspan></text>
<text x="378.6" y="337.56" font-family='"Liberation Sans", sans-serif' font-weight="bold" font-size="6.3" text-anchor="middle" fill="#111" stroke="#111" stroke-width="0.3" >0</text>
<text x="404.86" y="337.56" font-family='"Liberation Sans", sans-serif' font-weight="bold" font-size="6.3" text-anchor="middle" fill="#111" stroke="#111" stroke-width="0.3" >20</text>
<text x="431.12" y="337.56" font-family='"Liberation Sans", sans-serif' font-weight="bold" font-size="6.3" text-anchor="middle" fill="#111" stroke="#111" stroke-width="0.3" >40</text>
<text x="457.38" y="337.56" font-family='"Liberation Sans", sans-serif' font-weight="bold" font-size="6.3" text-anchor="middle" fill="#111" stroke="#111" stroke-width="0.3" >60</text>
<text x="483.64" y="337.56" font-family='"Liberation Sans", sans-serif' font-weight="bold" font-size="6.3" text-anchor="middle" fill="#111" stroke="#111" stroke-width="0.3" >80</text>
<text x="509.9" y="337.56" font-family='"Liberation Sans", sans-serif' font-weight="bold" font-size="6.3" text-anchor="middle" fill="#111" stroke="#111" stroke-width="0.3" >100</text>
<text transform="translate(356.6,273.25) rotate(-90)" x="0" y="0" font-family='"Liberation Sans", sans-serif' font-weight="bold" font-size="12.4" text-anchor="middle" fill="#111" stroke="#111" stroke-width="0.45">Normalized Counts</text>
<text x="420.1" y="354.4" font-family='"Liberation Sans", sans-serif' font-weight="bold" font-size="11.4" text-anchor="start" fill="#111" stroke="#111" stroke-width="0.45" >Time(ns)</text>
<path d="M430.7 229H450.6" stroke="#40c8f2" stroke-width="1.15"/>
<path d="M430.7 239.5H450.6" stroke="#939a9e" stroke-width="1.2"/>
<text x="453.6" y="232" font-family='"Liberation Sans", sans-serif' font-weight="bold" font-size="8.6" text-anchor="start" fill="#111" stroke="#111" stroke-width="0.3" >P20-film-Ar</text>
<text x="453.6" y="242.9" font-family='"Liberation Sans", sans-serif' font-weight="bold" font-size="8.6" text-anchor="start" fill="#111" stroke="#111" stroke-width="0.3" >IRF</text>
</svg>
</body></html>
